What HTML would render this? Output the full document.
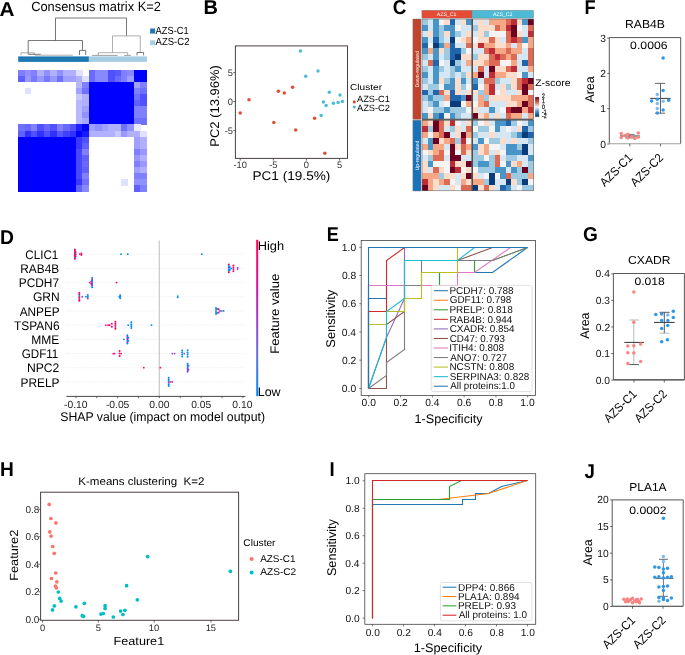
<!DOCTYPE html>
<html><head><meta charset="utf-8"><style>
html,body{margin:0;padding:0;background:#fff;}
svg{display:block;will-change:transform;}
text{font-family:"Liberation Sans",sans-serif;text-rendering:geometricPrecision;}
</style></head><body>
<svg width="685" height="655" viewBox="0 0 685 655">
<rect width="685" height="655" fill="#fff"/>
<text x="-0.52" y="15.80" font-size="20" textLength="14.98" lengthAdjust="spacingAndGlyphs" font-weight="bold" >A</text>
<text x="203.60" y="13.90" font-size="20" textLength="14.44" lengthAdjust="spacingAndGlyphs" font-weight="bold" >B</text>
<text x="392.74" y="14.00" font-size="20" textLength="13.67" lengthAdjust="spacingAndGlyphs" font-weight="bold" >C</text>
<text x="-0.06" y="243.60" font-size="20" textLength="13.97" lengthAdjust="spacingAndGlyphs" font-weight="bold" >D</text>
<text x="326.73" y="241.30" font-size="20" textLength="12.04" lengthAdjust="spacingAndGlyphs" font-weight="bold" >E</text>
<text x="584.61" y="13.70" font-size="20" textLength="11.14" lengthAdjust="spacingAndGlyphs" font-weight="bold" >F</text>
<text x="582.94" y="241.30" font-size="20" textLength="14.86" lengthAdjust="spacingAndGlyphs" font-weight="bold" >G</text>
<text x="0.06" y="476.00" font-size="20" textLength="13.83" lengthAdjust="spacingAndGlyphs" font-weight="bold" >H</text>
<text x="329.59" y="475.80" font-size="20" textLength="5.17" lengthAdjust="spacingAndGlyphs" font-weight="bold" >I</text>
<text x="584.62" y="477.50" font-size="20" textLength="10.42" lengthAdjust="spacingAndGlyphs" font-weight="bold" >J</text>
<text x="31.16" y="11.20" font-size="13.3" textLength="129.83" lengthAdjust="spacingAndGlyphs" >Consensus matrix K=2</text>
<line x1="55.5" y1="18" x2="126.5" y2="18" stroke="#555" stroke-width="0.8" />
<line x1="55.5" y1="18" x2="55.5" y2="40.5" stroke="#555" stroke-width="0.8" />
<line x1="126.5" y1="18" x2="126.5" y2="35.9" stroke="#555" stroke-width="0.8" />
<line x1="28.2" y1="40.5" x2="82.5" y2="40.5" stroke="#555" stroke-width="0.8" />
<line x1="28.2" y1="40.5" x2="28.2" y2="54.2" stroke="#555" stroke-width="0.8" />
<line x1="82.5" y1="40.5" x2="82.5" y2="50.4" stroke="#555" stroke-width="0.8" />
<line x1="79.5" y1="50.4" x2="85.7" y2="50.4" stroke="#555" stroke-width="0.8" />
<line x1="79.5" y1="50.4" x2="79.5" y2="55" stroke="#555" stroke-width="0.8" />
<line x1="85.7" y1="50.4" x2="85.7" y2="55" stroke="#555" stroke-width="0.8" />
<line x1="21" y1="52.8" x2="34.3" y2="52.8" stroke="#999" stroke-width="0.8" />
<line x1="21" y1="52.8" x2="21" y2="55.3" stroke="#999" stroke-width="0.8" />
<line x1="34.3" y1="52.8" x2="34.3" y2="55" stroke="#999" stroke-width="0.8" />
<line x1="28.2" y1="54.3" x2="40.7" y2="54.3" stroke="#555" stroke-width="0.8" />
<line x1="34.9" y1="55.2" x2="72.8" y2="55.2" stroke="#a09590" stroke-width="0.8" />
<line x1="112.5" y1="35.9" x2="140.3" y2="35.9" stroke="#999" stroke-width="0.8" />
<line x1="112.5" y1="35.9" x2="112.5" y2="52.7" stroke="#999" stroke-width="0.8" />
<line x1="140.3" y1="35.9" x2="140.3" y2="52.5" stroke="#999" stroke-width="0.8" />
<line x1="98.3" y1="52.7" x2="127.7" y2="52.7" stroke="#999" stroke-width="0.8" />
<line x1="98.3" y1="52.7" x2="98.3" y2="55.4" stroke="#999" stroke-width="0.8" />
<line x1="127.7" y1="52.7" x2="127.7" y2="55.4" stroke="#999" stroke-width="0.8" />
<line x1="92.1" y1="55.4" x2="117.7" y2="55.4" stroke="#888" stroke-width="0.8" />
<line x1="124.1" y1="55.4" x2="130.8" y2="55.4" stroke="#888" stroke-width="0.8" />
<line x1="137" y1="52.5" x2="143.6" y2="52.5" stroke="#555" stroke-width="0.8" />
<line x1="137" y1="52.5" x2="137" y2="55.4" stroke="#555" stroke-width="0.8" />
<line x1="143.6" y1="52.5" x2="143.6" y2="55.4" stroke="#555" stroke-width="0.8" />
<rect x="18.2" y="56.4" width="70.7" height="5.5" fill="#1f78b4" />
<rect x="88.9" y="56.4" width="58" height="5.5" fill="#a6cee3" />
<rect x="150.1" y="28.5" width="5" height="5.1" fill="#1f78b4" />
<rect x="150.1" y="40.3" width="5" height="4.9" fill="#a6cee3" />
<text x="155.60" y="33.50" font-size="10.3" textLength="33.13" lengthAdjust="spacingAndGlyphs" >AZS-C1</text>
<text x="155.60" y="44.80" font-size="10.3" textLength="33.89" lengthAdjust="spacingAndGlyphs" >AZS-C2</text>
<rect x="18.1" y="69.6" width="6.78" height="6.44" fill="#8080ff" shape-rendering="crispEdges"/>
<rect x="24.53" y="69.6" width="6.78" height="6.44" fill="#9090ff" shape-rendering="crispEdges"/>
<rect x="30.96" y="69.6" width="6.78" height="6.44" fill="#8080ff" shape-rendering="crispEdges"/>
<rect x="37.39" y="69.6" width="6.78" height="6.44" fill="#b0b0ff" shape-rendering="crispEdges"/>
<rect x="43.82" y="69.6" width="6.78" height="6.44" fill="#9090ff" shape-rendering="crispEdges"/>
<rect x="50.25" y="69.6" width="6.78" height="6.44" fill="#b0b0ff" shape-rendering="crispEdges"/>
<rect x="56.68" y="69.6" width="6.78" height="6.44" fill="#9090ff" shape-rendering="crispEdges"/>
<rect x="63.11" y="69.6" width="6.78" height="6.44" fill="#b0b0ff" shape-rendering="crispEdges"/>
<rect x="69.54" y="69.6" width="6.78" height="6.44" fill="#b0b0ff" shape-rendering="crispEdges"/>
<rect x="75.97" y="69.6" width="6.78" height="6.44" fill="#e0e0ff" shape-rendering="crispEdges"/>
<rect x="88.83" y="69.6" width="6.78" height="6.44" fill="#6a6aff" shape-rendering="crispEdges"/>
<rect x="95.26" y="69.6" width="6.78" height="6.44" fill="#8888ff" shape-rendering="crispEdges"/>
<rect x="101.69" y="69.6" width="6.78" height="6.44" fill="#8888ff" shape-rendering="crispEdges"/>
<rect x="108.12" y="69.6" width="6.78" height="6.44" fill="#5050ff" shape-rendering="crispEdges"/>
<rect x="114.55" y="69.6" width="6.78" height="6.44" fill="#5858ff" shape-rendering="crispEdges"/>
<rect x="120.98" y="69.6" width="6.78" height="6.44" fill="#8080ff" shape-rendering="crispEdges"/>
<rect x="127.41" y="69.6" width="6.78" height="6.44" fill="#8888ff" shape-rendering="crispEdges"/>
<rect x="133.84" y="69.6" width="6.78" height="6.44" fill="#0000ff" shape-rendering="crispEdges"/>
<rect x="140.27" y="69.6" width="6.78" height="6.44" fill="#0000ff" shape-rendering="crispEdges"/>
<rect x="18.1" y="75.69" width="6.78" height="6.44" fill="#6060ff" shape-rendering="crispEdges"/>
<rect x="24.53" y="75.69" width="6.78" height="6.44" fill="#9898ff" shape-rendering="crispEdges"/>
<rect x="30.96" y="75.69" width="6.78" height="6.44" fill="#7878ff" shape-rendering="crispEdges"/>
<rect x="37.39" y="75.69" width="6.78" height="6.44" fill="#9898ff" shape-rendering="crispEdges"/>
<rect x="43.82" y="75.69" width="6.78" height="6.44" fill="#7878ff" shape-rendering="crispEdges"/>
<rect x="50.25" y="75.69" width="6.78" height="6.44" fill="#9898ff" shape-rendering="crispEdges"/>
<rect x="56.68" y="75.69" width="6.78" height="6.44" fill="#7070ff" shape-rendering="crispEdges"/>
<rect x="63.11" y="75.69" width="6.78" height="6.44" fill="#a0a0ff" shape-rendering="crispEdges"/>
<rect x="69.54" y="75.69" width="6.78" height="6.44" fill="#a0a0ff" shape-rendering="crispEdges"/>
<rect x="75.97" y="75.69" width="6.78" height="6.44" fill="#b0b0ff" shape-rendering="crispEdges"/>
<rect x="82.4" y="75.69" width="6.78" height="6.44" fill="#e0e0ff" shape-rendering="crispEdges"/>
<rect x="88.83" y="75.69" width="6.78" height="6.44" fill="#6a6aff" shape-rendering="crispEdges"/>
<rect x="95.26" y="75.69" width="6.78" height="6.44" fill="#8888ff" shape-rendering="crispEdges"/>
<rect x="101.69" y="75.69" width="6.78" height="6.44" fill="#8888ff" shape-rendering="crispEdges"/>
<rect x="108.12" y="75.69" width="6.78" height="6.44" fill="#5050ff" shape-rendering="crispEdges"/>
<rect x="114.55" y="75.69" width="6.78" height="6.44" fill="#6a6aff" shape-rendering="crispEdges"/>
<rect x="120.98" y="75.69" width="6.78" height="6.44" fill="#8080ff" shape-rendering="crispEdges"/>
<rect x="127.41" y="75.69" width="6.78" height="6.44" fill="#a0a0ff" shape-rendering="crispEdges"/>
<rect x="133.84" y="75.69" width="6.78" height="6.44" fill="#0000ff" shape-rendering="crispEdges"/>
<rect x="140.27" y="75.69" width="6.78" height="6.44" fill="#0000ff" shape-rendering="crispEdges"/>
<rect x="75.97" y="81.78" width="6.78" height="6.44" fill="#b8b8ff" shape-rendering="crispEdges"/>
<rect x="82.4" y="81.78" width="6.78" height="6.44" fill="#8080ff" shape-rendering="crispEdges"/>
<rect x="88.83" y="81.78" width="6.78" height="6.44" fill="#0000ff" shape-rendering="crispEdges"/>
<rect x="95.26" y="81.78" width="6.78" height="6.44" fill="#0000ff" shape-rendering="crispEdges"/>
<rect x="101.69" y="81.78" width="6.78" height="6.44" fill="#0000ff" shape-rendering="crispEdges"/>
<rect x="108.12" y="81.78" width="6.78" height="6.44" fill="#0000ff" shape-rendering="crispEdges"/>
<rect x="114.55" y="81.78" width="6.78" height="6.44" fill="#0000ff" shape-rendering="crispEdges"/>
<rect x="120.98" y="81.78" width="6.78" height="6.44" fill="#0000ff" shape-rendering="crispEdges"/>
<rect x="127.41" y="81.78" width="6.78" height="6.44" fill="#0000ff" shape-rendering="crispEdges"/>
<rect x="133.84" y="81.78" width="6.78" height="6.44" fill="#a0a0ff" shape-rendering="crispEdges"/>
<rect x="140.27" y="81.78" width="6.78" height="6.44" fill="#8080ff" shape-rendering="crispEdges"/>
<rect x="24.53" y="87.87" width="6.78" height="6.44" fill="#e0e0ff" shape-rendering="crispEdges"/>
<rect x="75.97" y="87.87" width="6.78" height="6.44" fill="#a0a0ff" shape-rendering="crispEdges"/>
<rect x="82.4" y="87.87" width="6.78" height="6.44" fill="#7070ff" shape-rendering="crispEdges"/>
<rect x="88.83" y="87.87" width="6.78" height="6.44" fill="#0000ff" shape-rendering="crispEdges"/>
<rect x="95.26" y="87.87" width="6.78" height="6.44" fill="#0000ff" shape-rendering="crispEdges"/>
<rect x="101.69" y="87.87" width="6.78" height="6.44" fill="#0000ff" shape-rendering="crispEdges"/>
<rect x="108.12" y="87.87" width="6.78" height="6.44" fill="#0000ff" shape-rendering="crispEdges"/>
<rect x="114.55" y="87.87" width="6.78" height="6.44" fill="#0000ff" shape-rendering="crispEdges"/>
<rect x="120.98" y="87.87" width="6.78" height="6.44" fill="#0000ff" shape-rendering="crispEdges"/>
<rect x="127.41" y="87.87" width="6.78" height="6.44" fill="#0000ff" shape-rendering="crispEdges"/>
<rect x="133.84" y="87.87" width="6.78" height="6.44" fill="#8080ff" shape-rendering="crispEdges"/>
<rect x="140.27" y="87.87" width="6.78" height="6.44" fill="#7070ff" shape-rendering="crispEdges"/>
<rect x="75.97" y="93.96" width="6.78" height="6.44" fill="#c8c8ff" shape-rendering="crispEdges"/>
<rect x="82.4" y="93.96" width="6.78" height="6.44" fill="#b0b0ff" shape-rendering="crispEdges"/>
<rect x="88.83" y="93.96" width="6.78" height="6.44" fill="#0000ff" shape-rendering="crispEdges"/>
<rect x="95.26" y="93.96" width="6.78" height="6.44" fill="#0000ff" shape-rendering="crispEdges"/>
<rect x="101.69" y="93.96" width="6.78" height="6.44" fill="#0000ff" shape-rendering="crispEdges"/>
<rect x="108.12" y="93.96" width="6.78" height="6.44" fill="#0000ff" shape-rendering="crispEdges"/>
<rect x="114.55" y="93.96" width="6.78" height="6.44" fill="#0000ff" shape-rendering="crispEdges"/>
<rect x="120.98" y="93.96" width="6.78" height="6.44" fill="#0000ff" shape-rendering="crispEdges"/>
<rect x="127.41" y="93.96" width="6.78" height="6.44" fill="#0000ff" shape-rendering="crispEdges"/>
<rect x="133.84" y="93.96" width="6.78" height="6.44" fill="#7070ff" shape-rendering="crispEdges"/>
<rect x="140.27" y="93.96" width="6.78" height="6.44" fill="#5050ff" shape-rendering="crispEdges"/>
<rect x="75.97" y="100.05" width="6.78" height="6.44" fill="#b8b8ff" shape-rendering="crispEdges"/>
<rect x="82.4" y="100.05" width="6.78" height="6.44" fill="#b0b0ff" shape-rendering="crispEdges"/>
<rect x="88.83" y="100.05" width="6.78" height="6.44" fill="#0000ff" shape-rendering="crispEdges"/>
<rect x="95.26" y="100.05" width="6.78" height="6.44" fill="#0000ff" shape-rendering="crispEdges"/>
<rect x="101.69" y="100.05" width="6.78" height="6.44" fill="#0000ff" shape-rendering="crispEdges"/>
<rect x="108.12" y="100.05" width="6.78" height="6.44" fill="#0000ff" shape-rendering="crispEdges"/>
<rect x="114.55" y="100.05" width="6.78" height="6.44" fill="#0000ff" shape-rendering="crispEdges"/>
<rect x="120.98" y="100.05" width="6.78" height="6.44" fill="#0000ff" shape-rendering="crispEdges"/>
<rect x="127.41" y="100.05" width="6.78" height="6.44" fill="#0000ff" shape-rendering="crispEdges"/>
<rect x="133.84" y="100.05" width="6.78" height="6.44" fill="#6060ff" shape-rendering="crispEdges"/>
<rect x="140.27" y="100.05" width="6.78" height="6.44" fill="#5050ff" shape-rendering="crispEdges"/>
<rect x="75.97" y="106.14" width="6.78" height="6.44" fill="#b8b8ff" shape-rendering="crispEdges"/>
<rect x="82.4" y="106.14" width="6.78" height="6.44" fill="#a0a0ff" shape-rendering="crispEdges"/>
<rect x="88.83" y="106.14" width="6.78" height="6.44" fill="#0000ff" shape-rendering="crispEdges"/>
<rect x="95.26" y="106.14" width="6.78" height="6.44" fill="#0000ff" shape-rendering="crispEdges"/>
<rect x="101.69" y="106.14" width="6.78" height="6.44" fill="#0000ff" shape-rendering="crispEdges"/>
<rect x="108.12" y="106.14" width="6.78" height="6.44" fill="#0000ff" shape-rendering="crispEdges"/>
<rect x="114.55" y="106.14" width="6.78" height="6.44" fill="#0000ff" shape-rendering="crispEdges"/>
<rect x="120.98" y="106.14" width="6.78" height="6.44" fill="#0000ff" shape-rendering="crispEdges"/>
<rect x="127.41" y="106.14" width="6.78" height="6.44" fill="#0000ff" shape-rendering="crispEdges"/>
<rect x="133.84" y="106.14" width="6.78" height="6.44" fill="#8080ff" shape-rendering="crispEdges"/>
<rect x="140.27" y="106.14" width="6.78" height="6.44" fill="#8080ff" shape-rendering="crispEdges"/>
<rect x="75.97" y="112.23" width="6.78" height="6.44" fill="#b8b8ff" shape-rendering="crispEdges"/>
<rect x="82.4" y="112.23" width="6.78" height="6.44" fill="#9090ff" shape-rendering="crispEdges"/>
<rect x="88.83" y="112.23" width="6.78" height="6.44" fill="#0000ff" shape-rendering="crispEdges"/>
<rect x="95.26" y="112.23" width="6.78" height="6.44" fill="#0000ff" shape-rendering="crispEdges"/>
<rect x="101.69" y="112.23" width="6.78" height="6.44" fill="#0000ff" shape-rendering="crispEdges"/>
<rect x="108.12" y="112.23" width="6.78" height="6.44" fill="#0000ff" shape-rendering="crispEdges"/>
<rect x="114.55" y="112.23" width="6.78" height="6.44" fill="#0000ff" shape-rendering="crispEdges"/>
<rect x="120.98" y="112.23" width="6.78" height="6.44" fill="#0000ff" shape-rendering="crispEdges"/>
<rect x="127.41" y="112.23" width="6.78" height="6.44" fill="#0000ff" shape-rendering="crispEdges"/>
<rect x="133.84" y="112.23" width="6.78" height="6.44" fill="#8080ff" shape-rendering="crispEdges"/>
<rect x="140.27" y="112.23" width="6.78" height="6.44" fill="#8080ff" shape-rendering="crispEdges"/>
<rect x="75.97" y="118.32" width="6.78" height="6.44" fill="#b8b8ff" shape-rendering="crispEdges"/>
<rect x="82.4" y="118.32" width="6.78" height="6.44" fill="#a8a8ff" shape-rendering="crispEdges"/>
<rect x="88.83" y="118.32" width="6.78" height="6.44" fill="#0000ff" shape-rendering="crispEdges"/>
<rect x="95.26" y="118.32" width="6.78" height="6.44" fill="#0000ff" shape-rendering="crispEdges"/>
<rect x="101.69" y="118.32" width="6.78" height="6.44" fill="#0000ff" shape-rendering="crispEdges"/>
<rect x="108.12" y="118.32" width="6.78" height="6.44" fill="#0000ff" shape-rendering="crispEdges"/>
<rect x="114.55" y="118.32" width="6.78" height="6.44" fill="#0000ff" shape-rendering="crispEdges"/>
<rect x="120.98" y="118.32" width="6.78" height="6.44" fill="#0000ff" shape-rendering="crispEdges"/>
<rect x="127.41" y="118.32" width="6.78" height="6.44" fill="#0000ff" shape-rendering="crispEdges"/>
<rect x="133.84" y="118.32" width="6.78" height="6.44" fill="#7070ff" shape-rendering="crispEdges"/>
<rect x="140.27" y="118.32" width="6.78" height="6.44" fill="#7070ff" shape-rendering="crispEdges"/>
<rect x="18.1" y="124.41" width="6.78" height="6.44" fill="#7070ff" shape-rendering="crispEdges"/>
<rect x="24.53" y="124.41" width="6.78" height="6.44" fill="#6868ff" shape-rendering="crispEdges"/>
<rect x="30.96" y="124.41" width="6.78" height="6.44" fill="#8080ff" shape-rendering="crispEdges"/>
<rect x="37.39" y="124.41" width="6.78" height="6.44" fill="#5050ff" shape-rendering="crispEdges"/>
<rect x="43.82" y="124.41" width="6.78" height="6.44" fill="#6868ff" shape-rendering="crispEdges"/>
<rect x="50.25" y="124.41" width="6.78" height="6.44" fill="#5050ff" shape-rendering="crispEdges"/>
<rect x="56.68" y="124.41" width="6.78" height="6.44" fill="#8080ff" shape-rendering="crispEdges"/>
<rect x="63.11" y="124.41" width="6.78" height="6.44" fill="#6868ff" shape-rendering="crispEdges"/>
<rect x="69.54" y="124.41" width="6.78" height="6.44" fill="#5050ff" shape-rendering="crispEdges"/>
<rect x="75.97" y="124.41" width="6.78" height="6.44" fill="#2020ff" shape-rendering="crispEdges"/>
<rect x="82.4" y="124.41" width="6.78" height="6.44" fill="#0000ff" shape-rendering="crispEdges"/>
<rect x="88.83" y="124.41" width="6.78" height="6.44" fill="#a0a0ff" shape-rendering="crispEdges"/>
<rect x="95.26" y="124.41" width="6.78" height="6.44" fill="#9090ff" shape-rendering="crispEdges"/>
<rect x="101.69" y="124.41" width="6.78" height="6.44" fill="#a0a0ff" shape-rendering="crispEdges"/>
<rect x="108.12" y="124.41" width="6.78" height="6.44" fill="#b0b0ff" shape-rendering="crispEdges"/>
<rect x="114.55" y="124.41" width="6.78" height="6.44" fill="#b0b0ff" shape-rendering="crispEdges"/>
<rect x="120.98" y="124.41" width="6.78" height="6.44" fill="#7070ff" shape-rendering="crispEdges"/>
<rect x="127.41" y="124.41" width="6.78" height="6.44" fill="#9090ff" shape-rendering="crispEdges"/>
<rect x="133.84" y="124.41" width="6.78" height="6.44" fill="#e8e8ff" shape-rendering="crispEdges"/>
<rect x="18.1" y="130.5" width="6.78" height="6.44" fill="#6060ff" shape-rendering="crispEdges"/>
<rect x="24.53" y="130.5" width="6.78" height="6.44" fill="#3030ff" shape-rendering="crispEdges"/>
<rect x="30.96" y="130.5" width="6.78" height="6.44" fill="#5050ff" shape-rendering="crispEdges"/>
<rect x="37.39" y="130.5" width="6.78" height="6.44" fill="#3030ff" shape-rendering="crispEdges"/>
<rect x="43.82" y="130.5" width="6.78" height="6.44" fill="#5050ff" shape-rendering="crispEdges"/>
<rect x="50.25" y="130.5" width="6.78" height="6.44" fill="#3030ff" shape-rendering="crispEdges"/>
<rect x="56.68" y="130.5" width="6.78" height="6.44" fill="#5858ff" shape-rendering="crispEdges"/>
<rect x="63.11" y="130.5" width="6.78" height="6.44" fill="#4040ff" shape-rendering="crispEdges"/>
<rect x="69.54" y="130.5" width="6.78" height="6.44" fill="#3030ff" shape-rendering="crispEdges"/>
<rect x="75.97" y="130.5" width="6.78" height="6.44" fill="#0000ff" shape-rendering="crispEdges"/>
<rect x="82.4" y="130.5" width="6.78" height="6.44" fill="#1818ff" shape-rendering="crispEdges"/>
<rect x="88.83" y="130.5" width="6.78" height="6.44" fill="#b0b0ff" shape-rendering="crispEdges"/>
<rect x="95.26" y="130.5" width="6.78" height="6.44" fill="#b0b0ff" shape-rendering="crispEdges"/>
<rect x="101.69" y="130.5" width="6.78" height="6.44" fill="#b0b0ff" shape-rendering="crispEdges"/>
<rect x="108.12" y="130.5" width="6.78" height="6.44" fill="#b0b0ff" shape-rendering="crispEdges"/>
<rect x="114.55" y="130.5" width="6.78" height="6.44" fill="#c8c8ff" shape-rendering="crispEdges"/>
<rect x="120.98" y="130.5" width="6.78" height="6.44" fill="#9898ff" shape-rendering="crispEdges"/>
<rect x="127.41" y="130.5" width="6.78" height="6.44" fill="#b0b0ff" shape-rendering="crispEdges"/>
<rect x="133.84" y="130.5" width="6.78" height="6.44" fill="#b0b0ff" shape-rendering="crispEdges"/>
<rect x="140.27" y="130.5" width="6.78" height="6.44" fill="#e0e0ff" shape-rendering="crispEdges"/>
<rect x="18.1" y="136.59" width="6.78" height="6.44" fill="#0000ff" shape-rendering="crispEdges"/>
<rect x="24.53" y="136.59" width="6.78" height="6.44" fill="#0000ff" shape-rendering="crispEdges"/>
<rect x="30.96" y="136.59" width="6.78" height="6.44" fill="#0000ff" shape-rendering="crispEdges"/>
<rect x="37.39" y="136.59" width="6.78" height="6.44" fill="#0000ff" shape-rendering="crispEdges"/>
<rect x="43.82" y="136.59" width="6.78" height="6.44" fill="#0000ff" shape-rendering="crispEdges"/>
<rect x="50.25" y="136.59" width="6.78" height="6.44" fill="#0000ff" shape-rendering="crispEdges"/>
<rect x="56.68" y="136.59" width="6.78" height="6.44" fill="#0000ff" shape-rendering="crispEdges"/>
<rect x="63.11" y="136.59" width="6.78" height="6.44" fill="#0000ff" shape-rendering="crispEdges"/>
<rect x="69.54" y="136.59" width="6.78" height="6.44" fill="#0000ff" shape-rendering="crispEdges"/>
<rect x="75.97" y="136.59" width="6.78" height="6.44" fill="#3838ff" shape-rendering="crispEdges"/>
<rect x="82.4" y="136.59" width="6.78" height="6.44" fill="#5050ff" shape-rendering="crispEdges"/>
<rect x="133.84" y="136.59" width="6.78" height="6.44" fill="#a0a0ff" shape-rendering="crispEdges"/>
<rect x="140.27" y="136.59" width="6.78" height="6.44" fill="#b0b0ff" shape-rendering="crispEdges"/>
<rect x="18.1" y="142.68" width="6.78" height="6.44" fill="#0000ff" shape-rendering="crispEdges"/>
<rect x="24.53" y="142.68" width="6.78" height="6.44" fill="#0000ff" shape-rendering="crispEdges"/>
<rect x="30.96" y="142.68" width="6.78" height="6.44" fill="#0000ff" shape-rendering="crispEdges"/>
<rect x="37.39" y="142.68" width="6.78" height="6.44" fill="#0000ff" shape-rendering="crispEdges"/>
<rect x="43.82" y="142.68" width="6.78" height="6.44" fill="#0000ff" shape-rendering="crispEdges"/>
<rect x="50.25" y="142.68" width="6.78" height="6.44" fill="#0000ff" shape-rendering="crispEdges"/>
<rect x="56.68" y="142.68" width="6.78" height="6.44" fill="#0000ff" shape-rendering="crispEdges"/>
<rect x="63.11" y="142.68" width="6.78" height="6.44" fill="#0000ff" shape-rendering="crispEdges"/>
<rect x="69.54" y="142.68" width="6.78" height="6.44" fill="#0000ff" shape-rendering="crispEdges"/>
<rect x="75.97" y="142.68" width="6.78" height="6.44" fill="#3838ff" shape-rendering="crispEdges"/>
<rect x="82.4" y="142.68" width="6.78" height="6.44" fill="#6060ff" shape-rendering="crispEdges"/>
<rect x="133.84" y="142.68" width="6.78" height="6.44" fill="#a0a0ff" shape-rendering="crispEdges"/>
<rect x="140.27" y="142.68" width="6.78" height="6.44" fill="#b0b0ff" shape-rendering="crispEdges"/>
<rect x="18.1" y="148.77" width="6.78" height="6.44" fill="#0000ff" shape-rendering="crispEdges"/>
<rect x="24.53" y="148.77" width="6.78" height="6.44" fill="#0000ff" shape-rendering="crispEdges"/>
<rect x="30.96" y="148.77" width="6.78" height="6.44" fill="#0000ff" shape-rendering="crispEdges"/>
<rect x="37.39" y="148.77" width="6.78" height="6.44" fill="#0000ff" shape-rendering="crispEdges"/>
<rect x="43.82" y="148.77" width="6.78" height="6.44" fill="#0000ff" shape-rendering="crispEdges"/>
<rect x="50.25" y="148.77" width="6.78" height="6.44" fill="#0000ff" shape-rendering="crispEdges"/>
<rect x="56.68" y="148.77" width="6.78" height="6.44" fill="#0000ff" shape-rendering="crispEdges"/>
<rect x="63.11" y="148.77" width="6.78" height="6.44" fill="#0000ff" shape-rendering="crispEdges"/>
<rect x="69.54" y="148.77" width="6.78" height="6.44" fill="#0000ff" shape-rendering="crispEdges"/>
<rect x="75.97" y="148.77" width="6.78" height="6.44" fill="#4848ff" shape-rendering="crispEdges"/>
<rect x="82.4" y="148.77" width="6.78" height="6.44" fill="#8080ff" shape-rendering="crispEdges"/>
<rect x="133.84" y="148.77" width="6.78" height="6.44" fill="#8080ff" shape-rendering="crispEdges"/>
<rect x="140.27" y="148.77" width="6.78" height="6.44" fill="#9898ff" shape-rendering="crispEdges"/>
<rect x="18.1" y="154.86" width="6.78" height="6.44" fill="#0000ff" shape-rendering="crispEdges"/>
<rect x="24.53" y="154.86" width="6.78" height="6.44" fill="#0000ff" shape-rendering="crispEdges"/>
<rect x="30.96" y="154.86" width="6.78" height="6.44" fill="#0000ff" shape-rendering="crispEdges"/>
<rect x="37.39" y="154.86" width="6.78" height="6.44" fill="#0000ff" shape-rendering="crispEdges"/>
<rect x="43.82" y="154.86" width="6.78" height="6.44" fill="#0000ff" shape-rendering="crispEdges"/>
<rect x="50.25" y="154.86" width="6.78" height="6.44" fill="#0000ff" shape-rendering="crispEdges"/>
<rect x="56.68" y="154.86" width="6.78" height="6.44" fill="#0000ff" shape-rendering="crispEdges"/>
<rect x="63.11" y="154.86" width="6.78" height="6.44" fill="#0000ff" shape-rendering="crispEdges"/>
<rect x="69.54" y="154.86" width="6.78" height="6.44" fill="#0000ff" shape-rendering="crispEdges"/>
<rect x="75.97" y="154.86" width="6.78" height="6.44" fill="#4848ff" shape-rendering="crispEdges"/>
<rect x="82.4" y="154.86" width="6.78" height="6.44" fill="#6060ff" shape-rendering="crispEdges"/>
<rect x="133.84" y="154.86" width="6.78" height="6.44" fill="#9898ff" shape-rendering="crispEdges"/>
<rect x="140.27" y="154.86" width="6.78" height="6.44" fill="#b0b0ff" shape-rendering="crispEdges"/>
<rect x="18.1" y="160.95" width="6.78" height="6.44" fill="#0000ff" shape-rendering="crispEdges"/>
<rect x="24.53" y="160.95" width="6.78" height="6.44" fill="#0000ff" shape-rendering="crispEdges"/>
<rect x="30.96" y="160.95" width="6.78" height="6.44" fill="#0000ff" shape-rendering="crispEdges"/>
<rect x="37.39" y="160.95" width="6.78" height="6.44" fill="#0000ff" shape-rendering="crispEdges"/>
<rect x="43.82" y="160.95" width="6.78" height="6.44" fill="#0000ff" shape-rendering="crispEdges"/>
<rect x="50.25" y="160.95" width="6.78" height="6.44" fill="#0000ff" shape-rendering="crispEdges"/>
<rect x="56.68" y="160.95" width="6.78" height="6.44" fill="#0000ff" shape-rendering="crispEdges"/>
<rect x="63.11" y="160.95" width="6.78" height="6.44" fill="#0000ff" shape-rendering="crispEdges"/>
<rect x="69.54" y="160.95" width="6.78" height="6.44" fill="#0000ff" shape-rendering="crispEdges"/>
<rect x="75.97" y="160.95" width="6.78" height="6.44" fill="#4848ff" shape-rendering="crispEdges"/>
<rect x="82.4" y="160.95" width="6.78" height="6.44" fill="#6868ff" shape-rendering="crispEdges"/>
<rect x="133.84" y="160.95" width="6.78" height="6.44" fill="#8080ff" shape-rendering="crispEdges"/>
<rect x="140.27" y="160.95" width="6.78" height="6.44" fill="#9898ff" shape-rendering="crispEdges"/>
<rect x="18.1" y="167.04" width="6.78" height="6.44" fill="#0000ff" shape-rendering="crispEdges"/>
<rect x="24.53" y="167.04" width="6.78" height="6.44" fill="#0000ff" shape-rendering="crispEdges"/>
<rect x="30.96" y="167.04" width="6.78" height="6.44" fill="#0000ff" shape-rendering="crispEdges"/>
<rect x="37.39" y="167.04" width="6.78" height="6.44" fill="#0000ff" shape-rendering="crispEdges"/>
<rect x="43.82" y="167.04" width="6.78" height="6.44" fill="#0000ff" shape-rendering="crispEdges"/>
<rect x="50.25" y="167.04" width="6.78" height="6.44" fill="#0000ff" shape-rendering="crispEdges"/>
<rect x="56.68" y="167.04" width="6.78" height="6.44" fill="#0000ff" shape-rendering="crispEdges"/>
<rect x="63.11" y="167.04" width="6.78" height="6.44" fill="#0000ff" shape-rendering="crispEdges"/>
<rect x="69.54" y="167.04" width="6.78" height="6.44" fill="#0000ff" shape-rendering="crispEdges"/>
<rect x="75.97" y="167.04" width="6.78" height="6.44" fill="#4848ff" shape-rendering="crispEdges"/>
<rect x="82.4" y="167.04" width="6.78" height="6.44" fill="#6060ff" shape-rendering="crispEdges"/>
<rect x="133.84" y="167.04" width="6.78" height="6.44" fill="#a0a0ff" shape-rendering="crispEdges"/>
<rect x="140.27" y="167.04" width="6.78" height="6.44" fill="#b0b0ff" shape-rendering="crispEdges"/>
<rect x="18.1" y="173.13" width="6.78" height="6.44" fill="#0000ff" shape-rendering="crispEdges"/>
<rect x="24.53" y="173.13" width="6.78" height="6.44" fill="#0000ff" shape-rendering="crispEdges"/>
<rect x="30.96" y="173.13" width="6.78" height="6.44" fill="#0000ff" shape-rendering="crispEdges"/>
<rect x="37.39" y="173.13" width="6.78" height="6.44" fill="#0000ff" shape-rendering="crispEdges"/>
<rect x="43.82" y="173.13" width="6.78" height="6.44" fill="#0000ff" shape-rendering="crispEdges"/>
<rect x="50.25" y="173.13" width="6.78" height="6.44" fill="#0000ff" shape-rendering="crispEdges"/>
<rect x="56.68" y="173.13" width="6.78" height="6.44" fill="#0000ff" shape-rendering="crispEdges"/>
<rect x="63.11" y="173.13" width="6.78" height="6.44" fill="#0000ff" shape-rendering="crispEdges"/>
<rect x="69.54" y="173.13" width="6.78" height="6.44" fill="#0000ff" shape-rendering="crispEdges"/>
<rect x="75.97" y="173.13" width="6.78" height="6.44" fill="#4848ff" shape-rendering="crispEdges"/>
<rect x="82.4" y="173.13" width="6.78" height="6.44" fill="#8080ff" shape-rendering="crispEdges"/>
<rect x="133.84" y="173.13" width="6.78" height="6.44" fill="#8080ff" shape-rendering="crispEdges"/>
<rect x="140.27" y="173.13" width="6.78" height="6.44" fill="#8080ff" shape-rendering="crispEdges"/>
<rect x="18.1" y="179.22" width="6.78" height="6.44" fill="#0000ff" shape-rendering="crispEdges"/>
<rect x="24.53" y="179.22" width="6.78" height="6.44" fill="#0000ff" shape-rendering="crispEdges"/>
<rect x="30.96" y="179.22" width="6.78" height="6.44" fill="#0000ff" shape-rendering="crispEdges"/>
<rect x="37.39" y="179.22" width="6.78" height="6.44" fill="#0000ff" shape-rendering="crispEdges"/>
<rect x="43.82" y="179.22" width="6.78" height="6.44" fill="#0000ff" shape-rendering="crispEdges"/>
<rect x="50.25" y="179.22" width="6.78" height="6.44" fill="#0000ff" shape-rendering="crispEdges"/>
<rect x="56.68" y="179.22" width="6.78" height="6.44" fill="#0000ff" shape-rendering="crispEdges"/>
<rect x="63.11" y="179.22" width="6.78" height="6.44" fill="#0000ff" shape-rendering="crispEdges"/>
<rect x="69.54" y="179.22" width="6.78" height="6.44" fill="#0000ff" shape-rendering="crispEdges"/>
<rect x="75.97" y="179.22" width="6.78" height="6.44" fill="#3838ff" shape-rendering="crispEdges"/>
<rect x="82.4" y="179.22" width="6.78" height="6.44" fill="#7070ff" shape-rendering="crispEdges"/>
<rect x="120.98" y="179.22" width="6.78" height="6.44" fill="#e0e0ff" shape-rendering="crispEdges"/>
<rect x="133.84" y="179.22" width="6.78" height="6.44" fill="#9090ff" shape-rendering="crispEdges"/>
<rect x="140.27" y="179.22" width="6.78" height="6.44" fill="#9090ff" shape-rendering="crispEdges"/>
<rect x="18.1" y="185.31" width="6.78" height="6.44" fill="#0000ff" shape-rendering="crispEdges"/>
<rect x="24.53" y="185.31" width="6.78" height="6.44" fill="#0000ff" shape-rendering="crispEdges"/>
<rect x="30.96" y="185.31" width="6.78" height="6.44" fill="#0000ff" shape-rendering="crispEdges"/>
<rect x="37.39" y="185.31" width="6.78" height="6.44" fill="#0000ff" shape-rendering="crispEdges"/>
<rect x="43.82" y="185.31" width="6.78" height="6.44" fill="#0000ff" shape-rendering="crispEdges"/>
<rect x="50.25" y="185.31" width="6.78" height="6.44" fill="#0000ff" shape-rendering="crispEdges"/>
<rect x="56.68" y="185.31" width="6.78" height="6.44" fill="#0000ff" shape-rendering="crispEdges"/>
<rect x="63.11" y="185.31" width="6.78" height="6.44" fill="#0000ff" shape-rendering="crispEdges"/>
<rect x="69.54" y="185.31" width="6.78" height="6.44" fill="#0000ff" shape-rendering="crispEdges"/>
<rect x="75.97" y="185.31" width="6.78" height="6.44" fill="#6060ff" shape-rendering="crispEdges"/>
<rect x="82.4" y="185.31" width="6.78" height="6.44" fill="#8888ff" shape-rendering="crispEdges"/>
<rect x="133.84" y="185.31" width="6.78" height="6.44" fill="#6060ff" shape-rendering="crispEdges"/>
<rect x="140.27" y="185.31" width="6.78" height="6.44" fill="#8080ff" shape-rendering="crispEdges"/>
<rect x="235.4" y="45.9" width="112.10" height="112.50" fill="none" stroke="#4a4040" stroke-width="1"/>
<line x1="240.2" y1="158.4" x2="240.2" y2="160.6" stroke="#444" stroke-width="0.8" />
<line x1="273.3" y1="158.4" x2="273.3" y2="160.6" stroke="#444" stroke-width="0.8" />
<line x1="306.4" y1="158.4" x2="306.4" y2="160.6" stroke="#444" stroke-width="0.8" />
<line x1="339.5" y1="158.4" x2="339.5" y2="160.6" stroke="#444" stroke-width="0.8" />
<line x1="233.2" y1="72.6" x2="235.4" y2="72.6" stroke="#444" stroke-width="0.8" />
<line x1="233.2" y1="101.6" x2="235.4" y2="101.6" stroke="#444" stroke-width="0.8" />
<line x1="233.2" y1="130.6" x2="235.4" y2="130.6" stroke="#444" stroke-width="0.8" />
<text x="233.43" y="167.60" font-size="9.3" textLength="13.44" lengthAdjust="spacingAndGlyphs" fill="#333333" >-10</text>
<text x="269.14" y="167.60" font-size="9.3" textLength="8.27" lengthAdjust="spacingAndGlyphs" fill="#333333" >-5</text>
<text x="303.80" y="167.60" font-size="9.3" textLength="5.17" lengthAdjust="spacingAndGlyphs" fill="#333333" >0</text>
<text x="336.92" y="167.60" font-size="9.3" textLength="5.17" lengthAdjust="spacingAndGlyphs" fill="#333333" >5</text>
<text x="227.81" y="75.90" font-size="9.3" textLength="5.17" lengthAdjust="spacingAndGlyphs" fill="#333333" >5</text>
<text x="227.76" y="104.90" font-size="9.3" textLength="5.17" lengthAdjust="spacingAndGlyphs" fill="#333333" >0</text>
<text x="224.69" y="133.90" font-size="9.3" textLength="8.27" lengthAdjust="spacingAndGlyphs" fill="#333333" >-5</text>
<text x="252.41" y="180.00" font-size="12.6" textLength="77.97" lengthAdjust="spacingAndGlyphs" >PC1 (19.5%)</text>
<text transform="translate(218.60,146.64) rotate(-90)" x="0" y="0" font-size="12.6" textLength="81.43" lengthAdjust="spacingAndGlyphs" >PC2 (13.96%)</text>
<text x="349.99" y="90.20" font-size="8.6" textLength="32.08" lengthAdjust="spacingAndGlyphs" >Cluster</text>
<text x="357.00" y="101.50" font-size="9.0" textLength="32.93" lengthAdjust="spacingAndGlyphs" >AZS-C1</text>
<text x="357.00" y="111.00" font-size="9.0" textLength="32.98" lengthAdjust="spacingAndGlyphs" >AZS-C2</text>
<circle cx="354.3" cy="101.9" r="1.55" fill="#e64b35" />
<circle cx="354.3" cy="107" r="1.55" fill="#4dbbd5" />
<circle cx="240.2" cy="113" r="1.75" fill="#e64b35" />
<circle cx="249" cy="99.8" r="1.75" fill="#e64b35" />
<circle cx="273.8" cy="122.4" r="1.75" fill="#e64b35" />
<circle cx="278.4" cy="91.3" r="1.75" fill="#e64b35" />
<circle cx="284.3" cy="92.9" r="1.75" fill="#e64b35" />
<circle cx="292.6" cy="87.2" r="1.75" fill="#e64b35" />
<circle cx="295.7" cy="130.1" r="1.75" fill="#e64b35" />
<circle cx="314.6" cy="118.2" r="1.75" fill="#e64b35" />
<circle cx="324.8" cy="153.2" r="1.75" fill="#e64b35" />
<circle cx="300.4" cy="51" r="1.75" fill="#4dbbd5" />
<circle cx="305.7" cy="76.2" r="1.75" fill="#4dbbd5" />
<circle cx="318" cy="71" r="1.75" fill="#4dbbd5" />
<circle cx="329.3" cy="92.3" r="1.75" fill="#4dbbd5" />
<circle cx="323.4" cy="101.9" r="1.75" fill="#4dbbd5" />
<circle cx="326.1" cy="105.4" r="1.75" fill="#4dbbd5" />
<circle cx="321.2" cy="115.6" r="1.75" fill="#4dbbd5" />
<circle cx="333.4" cy="103.2" r="1.75" fill="#4dbbd5" />
<circle cx="338.1" cy="102.5" r="1.75" fill="#4dbbd5" />
<circle cx="340" cy="95" r="1.75" fill="#4dbbd5" />
<circle cx="342.4" cy="101.4" r="1.75" fill="#4dbbd5" />
<g shape-rendering="crispEdges"><rect x="422" y="19" width="5.83" height="6.18" fill="#9ecae1" /><rect x="427.53" y="19" width="5.83" height="6.18" fill="#d6e6f2" /><rect x="433.06" y="19" width="5.83" height="6.18" fill="#4a95c8" /><rect x="438.59" y="19" width="5.83" height="6.18" fill="#f4f4f5" /><rect x="444.12" y="19" width="5.83" height="6.18" fill="#fcdccb" /><rect x="449.65" y="19" width="5.83" height="6.18" fill="#2166ac" /><rect x="455.18" y="19" width="5.83" height="6.18" fill="#d6e6f2" /><rect x="460.71" y="19" width="5.83" height="6.18" fill="#fcdccb" /><rect x="466.24" y="19" width="5.83" height="6.18" fill="#4a95c8" /><rect x="472.6" y="19" width="5.83" height="6.18" fill="#d6e6f2" /><rect x="478.13" y="19" width="5.83" height="6.18" fill="#fcdccb" /><rect x="483.66" y="19" width="5.83" height="6.18" fill="#d6e6f2" /><rect x="489.19" y="19" width="5.83" height="6.18" fill="#f6a886" /><rect x="494.72" y="19" width="5.83" height="6.18" fill="#f6a886" /><rect x="500.25" y="19" width="5.83" height="6.18" fill="#f6a886" /><rect x="505.78" y="19" width="5.83" height="6.18" fill="#dc6a55" /><rect x="511.31" y="19" width="5.83" height="6.18" fill="#be2d36" /><rect x="516.84" y="19" width="5.83" height="6.18" fill="#fcdccb" /><rect x="522.37" y="19" width="5.83" height="6.18" fill="#4a95c8" /><rect x="527.9" y="19" width="5.83" height="6.18" fill="#6c0020" /><rect x="422" y="24.88" width="5.83" height="6.18" fill="#4a95c8" /><rect x="427.53" y="24.88" width="5.83" height="6.18" fill="#d6e6f2" /><rect x="433.06" y="24.88" width="5.83" height="6.18" fill="#4a95c8" /><rect x="438.59" y="24.88" width="5.83" height="6.18" fill="#9ecae1" /><rect x="444.12" y="24.88" width="5.83" height="6.18" fill="#4a95c8" /><rect x="449.65" y="24.88" width="5.83" height="6.18" fill="#4a95c8" /><rect x="455.18" y="24.88" width="5.83" height="6.18" fill="#f4f4f5" /><rect x="460.71" y="24.88" width="5.83" height="6.18" fill="#d6e6f2" /><rect x="466.24" y="24.88" width="5.83" height="6.18" fill="#d6e6f2" /><rect x="472.6" y="24.88" width="5.83" height="6.18" fill="#9ecae1" /><rect x="478.13" y="24.88" width="5.83" height="6.18" fill="#fcdccb" /><rect x="483.66" y="24.88" width="5.83" height="6.18" fill="#fcdccb" /><rect x="489.19" y="24.88" width="5.83" height="6.18" fill="#fcdccb" /><rect x="494.72" y="24.88" width="5.83" height="6.18" fill="#dc6a55" /><rect x="500.25" y="24.88" width="5.83" height="6.18" fill="#f6a886" /><rect x="505.78" y="24.88" width="5.83" height="6.18" fill="#be2d36" /><rect x="511.31" y="24.88" width="5.83" height="6.18" fill="#6c0020" /><rect x="516.84" y="24.88" width="5.83" height="6.18" fill="#f4f4f5" /><rect x="522.37" y="24.88" width="5.83" height="6.18" fill="#d6e6f2" /><rect x="527.9" y="24.88" width="5.83" height="6.18" fill="#dc6a55" /><rect x="422" y="30.76" width="5.83" height="6.18" fill="#d6e6f2" /><rect x="427.53" y="30.76" width="5.83" height="6.18" fill="#fcdccb" /><rect x="433.06" y="30.76" width="5.83" height="6.18" fill="#4a95c8" /><rect x="438.59" y="30.76" width="5.83" height="6.18" fill="#9ecae1" /><rect x="444.12" y="30.76" width="5.83" height="6.18" fill="#fcdccb" /><rect x="449.65" y="30.76" width="5.83" height="6.18" fill="#4a95c8" /><rect x="455.18" y="30.76" width="5.83" height="6.18" fill="#9ecae1" /><rect x="460.71" y="30.76" width="5.83" height="6.18" fill="#d6e6f2" /><rect x="466.24" y="30.76" width="5.83" height="6.18" fill="#fcdccb" /><rect x="472.6" y="30.76" width="5.83" height="6.18" fill="#d6e6f2" /><rect x="478.13" y="30.76" width="5.83" height="6.18" fill="#fcdccb" /><rect x="483.66" y="30.76" width="5.83" height="6.18" fill="#9ecae1" /><rect x="489.19" y="30.76" width="5.83" height="6.18" fill="#f4f4f5" /><rect x="494.72" y="30.76" width="5.83" height="6.18" fill="#f4f4f5" /><rect x="500.25" y="30.76" width="5.83" height="6.18" fill="#f4f4f5" /><rect x="505.78" y="30.76" width="5.83" height="6.18" fill="#dc6a55" /><rect x="511.31" y="30.76" width="5.83" height="6.18" fill="#6c0020" /><rect x="516.84" y="30.76" width="5.83" height="6.18" fill="#fcdccb" /><rect x="522.37" y="30.76" width="5.83" height="6.18" fill="#d6e6f2" /><rect x="527.9" y="30.76" width="5.83" height="6.18" fill="#be2d36" /><rect x="422" y="36.64" width="5.83" height="6.18" fill="#4a95c8" /><rect x="427.53" y="36.64" width="5.83" height="6.18" fill="#d6e6f2" /><rect x="433.06" y="36.64" width="5.83" height="6.18" fill="#2166ac" /><rect x="438.59" y="36.64" width="5.83" height="6.18" fill="#9ecae1" /><rect x="444.12" y="36.64" width="5.83" height="6.18" fill="#d6e6f2" /><rect x="449.65" y="36.64" width="5.83" height="6.18" fill="#0b3b78" /><rect x="455.18" y="36.64" width="5.83" height="6.18" fill="#f4f4f5" /><rect x="460.71" y="36.64" width="5.83" height="6.18" fill="#fcdccb" /><rect x="466.24" y="36.64" width="5.83" height="6.18" fill="#f6a886" /><rect x="472.6" y="36.64" width="5.83" height="6.18" fill="#f4f4f5" /><rect x="478.13" y="36.64" width="5.83" height="6.18" fill="#fcdccb" /><rect x="483.66" y="36.64" width="5.83" height="6.18" fill="#fcdccb" /><rect x="489.19" y="36.64" width="5.83" height="6.18" fill="#dc6a55" /><rect x="494.72" y="36.64" width="5.83" height="6.18" fill="#fcdccb" /><rect x="500.25" y="36.64" width="5.83" height="6.18" fill="#d6e6f2" /><rect x="505.78" y="36.64" width="5.83" height="6.18" fill="#dc6a55" /><rect x="511.31" y="36.64" width="5.83" height="6.18" fill="#be2d36" /><rect x="516.84" y="36.64" width="5.83" height="6.18" fill="#dc6a55" /><rect x="522.37" y="36.64" width="5.83" height="6.18" fill="#4a95c8" /><rect x="527.9" y="36.64" width="5.83" height="6.18" fill="#f6a886" /><rect x="422" y="42.52" width="5.83" height="6.18" fill="#2166ac" /><rect x="427.53" y="42.52" width="5.83" height="6.18" fill="#f4f4f5" /><rect x="433.06" y="42.52" width="5.83" height="6.18" fill="#0b3b78" /><rect x="438.59" y="42.52" width="5.83" height="6.18" fill="#4a95c8" /><rect x="444.12" y="42.52" width="5.83" height="6.18" fill="#f6a886" /><rect x="449.65" y="42.52" width="5.83" height="6.18" fill="#2166ac" /><rect x="455.18" y="42.52" width="5.83" height="6.18" fill="#d6e6f2" /><rect x="460.71" y="42.52" width="5.83" height="6.18" fill="#d6e6f2" /><rect x="466.24" y="42.52" width="5.83" height="6.18" fill="#dc6a55" /><rect x="472.6" y="42.52" width="5.83" height="6.18" fill="#fcdccb" /><rect x="478.13" y="42.52" width="5.83" height="6.18" fill="#be2d36" /><rect x="483.66" y="42.52" width="5.83" height="6.18" fill="#f6a886" /><rect x="489.19" y="42.52" width="5.83" height="6.18" fill="#f6a886" /><rect x="494.72" y="42.52" width="5.83" height="6.18" fill="#fcdccb" /><rect x="500.25" y="42.52" width="5.83" height="6.18" fill="#fcdccb" /><rect x="505.78" y="42.52" width="5.83" height="6.18" fill="#f6a886" /><rect x="511.31" y="42.52" width="5.83" height="6.18" fill="#d6e6f2" /><rect x="516.84" y="42.52" width="5.83" height="6.18" fill="#f6a886" /><rect x="522.37" y="42.52" width="5.83" height="6.18" fill="#f4f4f5" /><rect x="527.9" y="42.52" width="5.83" height="6.18" fill="#f6a886" /><rect x="422" y="48.4" width="5.83" height="6.18" fill="#4a95c8" /><rect x="427.53" y="48.4" width="5.83" height="6.18" fill="#f6a886" /><rect x="433.06" y="48.4" width="5.83" height="6.18" fill="#4a95c8" /><rect x="438.59" y="48.4" width="5.83" height="6.18" fill="#fcdccb" /><rect x="444.12" y="48.4" width="5.83" height="6.18" fill="#9ecae1" /><rect x="449.65" y="48.4" width="5.83" height="6.18" fill="#2166ac" /><rect x="455.18" y="48.4" width="5.83" height="6.18" fill="#2166ac" /><rect x="460.71" y="48.4" width="5.83" height="6.18" fill="#9ecae1" /><rect x="466.24" y="48.4" width="5.83" height="6.18" fill="#f4f4f5" /><rect x="472.6" y="48.4" width="5.83" height="6.18" fill="#d6e6f2" /><rect x="478.13" y="48.4" width="5.83" height="6.18" fill="#d6e6f2" /><rect x="483.66" y="48.4" width="5.83" height="6.18" fill="#dc6a55" /><rect x="489.19" y="48.4" width="5.83" height="6.18" fill="#be2d36" /><rect x="494.72" y="48.4" width="5.83" height="6.18" fill="#f6a886" /><rect x="500.25" y="48.4" width="5.83" height="6.18" fill="#f6a886" /><rect x="505.78" y="48.4" width="5.83" height="6.18" fill="#dc6a55" /><rect x="511.31" y="48.4" width="5.83" height="6.18" fill="#f6a886" /><rect x="516.84" y="48.4" width="5.83" height="6.18" fill="#f6a886" /><rect x="522.37" y="48.4" width="5.83" height="6.18" fill="#d6e6f2" /><rect x="527.9" y="48.4" width="5.83" height="6.18" fill="#dc6a55" /><rect x="422" y="54.28" width="5.83" height="6.18" fill="#9ecae1" /><rect x="427.53" y="54.28" width="5.83" height="6.18" fill="#d6e6f2" /><rect x="433.06" y="54.28" width="5.83" height="6.18" fill="#4a95c8" /><rect x="438.59" y="54.28" width="5.83" height="6.18" fill="#d6e6f2" /><rect x="444.12" y="54.28" width="5.83" height="6.18" fill="#9ecae1" /><rect x="449.65" y="54.28" width="5.83" height="6.18" fill="#2166ac" /><rect x="455.18" y="54.28" width="5.83" height="6.18" fill="#0b3b78" /><rect x="460.71" y="54.28" width="5.83" height="6.18" fill="#fcdccb" /><rect x="466.24" y="54.28" width="5.83" height="6.18" fill="#fcdccb" /><rect x="472.6" y="54.28" width="5.83" height="6.18" fill="#9ecae1" /><rect x="478.13" y="54.28" width="5.83" height="6.18" fill="#fcdccb" /><rect x="483.66" y="54.28" width="5.83" height="6.18" fill="#fcdccb" /><rect x="489.19" y="54.28" width="5.83" height="6.18" fill="#dc6a55" /><rect x="494.72" y="54.28" width="5.83" height="6.18" fill="#be2d36" /><rect x="500.25" y="54.28" width="5.83" height="6.18" fill="#dc6a55" /><rect x="505.78" y="54.28" width="5.83" height="6.18" fill="#f6a886" /><rect x="511.31" y="54.28" width="5.83" height="6.18" fill="#dc6a55" /><rect x="516.84" y="54.28" width="5.83" height="6.18" fill="#d6e6f2" /><rect x="522.37" y="54.28" width="5.83" height="6.18" fill="#d6e6f2" /><rect x="527.9" y="54.28" width="5.83" height="6.18" fill="#dc6a55" /><rect x="422" y="60.16" width="5.83" height="6.18" fill="#d6e6f2" /><rect x="427.53" y="60.16" width="5.83" height="6.18" fill="#dc6a55" /><rect x="433.06" y="60.16" width="5.83" height="6.18" fill="#2166ac" /><rect x="438.59" y="60.16" width="5.83" height="6.18" fill="#f4f4f5" /><rect x="444.12" y="60.16" width="5.83" height="6.18" fill="#d6e6f2" /><rect x="449.65" y="60.16" width="5.83" height="6.18" fill="#0b3b78" /><rect x="455.18" y="60.16" width="5.83" height="6.18" fill="#9ecae1" /><rect x="460.71" y="60.16" width="5.83" height="6.18" fill="#d6e6f2" /><rect x="466.24" y="60.16" width="5.83" height="6.18" fill="#f6a886" /><rect x="472.6" y="60.16" width="5.83" height="6.18" fill="#fcdccb" /><rect x="478.13" y="60.16" width="5.83" height="6.18" fill="#fcdccb" /><rect x="483.66" y="60.16" width="5.83" height="6.18" fill="#f6a886" /><rect x="489.19" y="60.16" width="5.83" height="6.18" fill="#dc6a55" /><rect x="494.72" y="60.16" width="5.83" height="6.18" fill="#dc6a55" /><rect x="500.25" y="60.16" width="5.83" height="6.18" fill="#f4f4f5" /><rect x="505.78" y="60.16" width="5.83" height="6.18" fill="#f4f4f5" /><rect x="511.31" y="60.16" width="5.83" height="6.18" fill="#f6a886" /><rect x="516.84" y="60.16" width="5.83" height="6.18" fill="#d6e6f2" /><rect x="522.37" y="60.16" width="5.83" height="6.18" fill="#2166ac" /><rect x="527.9" y="60.16" width="5.83" height="6.18" fill="#dc6a55" /><rect x="422" y="66.04" width="5.83" height="6.18" fill="#9ecae1" /><rect x="427.53" y="66.04" width="5.83" height="6.18" fill="#d6e6f2" /><rect x="433.06" y="66.04" width="5.83" height="6.18" fill="#4a95c8" /><rect x="438.59" y="66.04" width="5.83" height="6.18" fill="#9ecae1" /><rect x="444.12" y="66.04" width="5.83" height="6.18" fill="#d6e6f2" /><rect x="449.65" y="66.04" width="5.83" height="6.18" fill="#9ecae1" /><rect x="455.18" y="66.04" width="5.83" height="6.18" fill="#4a95c8" /><rect x="460.71" y="66.04" width="5.83" height="6.18" fill="#d6e6f2" /><rect x="466.24" y="66.04" width="5.83" height="6.18" fill="#d6e6f2" /><rect x="472.6" y="66.04" width="5.83" height="6.18" fill="#d6e6f2" /><rect x="478.13" y="66.04" width="5.83" height="6.18" fill="#dc6a55" /><rect x="483.66" y="66.04" width="5.83" height="6.18" fill="#d6e6f2" /><rect x="489.19" y="66.04" width="5.83" height="6.18" fill="#6c0020" /><rect x="494.72" y="66.04" width="5.83" height="6.18" fill="#fcdccb" /><rect x="500.25" y="66.04" width="5.83" height="6.18" fill="#fcdccb" /><rect x="505.78" y="66.04" width="5.83" height="6.18" fill="#dc6a55" /><rect x="511.31" y="66.04" width="5.83" height="6.18" fill="#be2d36" /><rect x="516.84" y="66.04" width="5.83" height="6.18" fill="#d6e6f2" /><rect x="522.37" y="66.04" width="5.83" height="6.18" fill="#d6e6f2" /><rect x="527.9" y="66.04" width="5.83" height="6.18" fill="#f6a886" /><rect x="422" y="71.92" width="5.83" height="6.18" fill="#4a95c8" /><rect x="427.53" y="71.92" width="5.83" height="6.18" fill="#d6e6f2" /><rect x="433.06" y="71.92" width="5.83" height="6.18" fill="#4a95c8" /><rect x="438.59" y="71.92" width="5.83" height="6.18" fill="#d6e6f2" /><rect x="444.12" y="71.92" width="5.83" height="6.18" fill="#d6e6f2" /><rect x="449.65" y="71.92" width="5.83" height="6.18" fill="#9ecae1" /><rect x="455.18" y="71.92" width="5.83" height="6.18" fill="#d6e6f2" /><rect x="460.71" y="71.92" width="5.83" height="6.18" fill="#9ecae1" /><rect x="466.24" y="71.92" width="5.83" height="6.18" fill="#fcdccb" /><rect x="472.6" y="71.92" width="5.83" height="6.18" fill="#f6a886" /><rect x="478.13" y="71.92" width="5.83" height="6.18" fill="#6c0020" /><rect x="483.66" y="71.92" width="5.83" height="6.18" fill="#d6e6f2" /><rect x="489.19" y="71.92" width="5.83" height="6.18" fill="#be2d36" /><rect x="494.72" y="71.92" width="5.83" height="6.18" fill="#f6a886" /><rect x="500.25" y="71.92" width="5.83" height="6.18" fill="#f6a886" /><rect x="505.78" y="71.92" width="5.83" height="6.18" fill="#fcdccb" /><rect x="511.31" y="71.92" width="5.83" height="6.18" fill="#fcdccb" /><rect x="516.84" y="71.92" width="5.83" height="6.18" fill="#f4f4f5" /><rect x="522.37" y="71.92" width="5.83" height="6.18" fill="#4a95c8" /><rect x="527.9" y="71.92" width="5.83" height="6.18" fill="#d6e6f2" /><rect x="422" y="77.8" width="5.83" height="6.18" fill="#9ecae1" /><rect x="427.53" y="77.8" width="5.83" height="6.18" fill="#d6e6f2" /><rect x="433.06" y="77.8" width="5.83" height="6.18" fill="#4a95c8" /><rect x="438.59" y="77.8" width="5.83" height="6.18" fill="#fcdccb" /><rect x="444.12" y="77.8" width="5.83" height="6.18" fill="#9ecae1" /><rect x="449.65" y="77.8" width="5.83" height="6.18" fill="#4a95c8" /><rect x="455.18" y="77.8" width="5.83" height="6.18" fill="#fcdccb" /><rect x="460.71" y="77.8" width="5.83" height="6.18" fill="#4a95c8" /><rect x="466.24" y="77.8" width="5.83" height="6.18" fill="#d6e6f2" /><rect x="472.6" y="77.8" width="5.83" height="6.18" fill="#4a95c8" /><rect x="478.13" y="77.8" width="5.83" height="6.18" fill="#d6e6f2" /><rect x="483.66" y="77.8" width="5.83" height="6.18" fill="#dc6a55" /><rect x="489.19" y="77.8" width="5.83" height="6.18" fill="#dc6a55" /><rect x="494.72" y="77.8" width="5.83" height="6.18" fill="#9ecae1" /><rect x="500.25" y="77.8" width="5.83" height="6.18" fill="#d6e6f2" /><rect x="505.78" y="77.8" width="5.83" height="6.18" fill="#d6e6f2" /><rect x="511.31" y="77.8" width="5.83" height="6.18" fill="#fcdccb" /><rect x="516.84" y="77.8" width="5.83" height="6.18" fill="#dc6a55" /><rect x="522.37" y="77.8" width="5.83" height="6.18" fill="#be2d36" /><rect x="527.9" y="77.8" width="5.83" height="6.18" fill="#6c0020" /><rect x="422" y="83.68" width="5.83" height="6.18" fill="#d6e6f2" /><rect x="427.53" y="83.68" width="5.83" height="6.18" fill="#9ecae1" /><rect x="433.06" y="83.68" width="5.83" height="6.18" fill="#9ecae1" /><rect x="438.59" y="83.68" width="5.83" height="6.18" fill="#f4f4f5" /><rect x="444.12" y="83.68" width="5.83" height="6.18" fill="#4a95c8" /><rect x="449.65" y="83.68" width="5.83" height="6.18" fill="#4a95c8" /><rect x="455.18" y="83.68" width="5.83" height="6.18" fill="#fcdccb" /><rect x="460.71" y="83.68" width="5.83" height="6.18" fill="#9ecae1" /><rect x="466.24" y="83.68" width="5.83" height="6.18" fill="#f4f4f5" /><rect x="472.6" y="83.68" width="5.83" height="6.18" fill="#2166ac" /><rect x="478.13" y="83.68" width="5.83" height="6.18" fill="#f4f4f5" /><rect x="483.66" y="83.68" width="5.83" height="6.18" fill="#f6a886" /><rect x="489.19" y="83.68" width="5.83" height="6.18" fill="#be2d36" /><rect x="494.72" y="83.68" width="5.83" height="6.18" fill="#d6e6f2" /><rect x="500.25" y="83.68" width="5.83" height="6.18" fill="#fcdccb" /><rect x="505.78" y="83.68" width="5.83" height="6.18" fill="#9ecae1" /><rect x="511.31" y="83.68" width="5.83" height="6.18" fill="#fcdccb" /><rect x="516.84" y="83.68" width="5.83" height="6.18" fill="#dc6a55" /><rect x="522.37" y="83.68" width="5.83" height="6.18" fill="#6c0020" /><rect x="527.9" y="83.68" width="5.83" height="6.18" fill="#dc6a55" /><rect x="422" y="89.56" width="5.83" height="6.18" fill="#2166ac" /><rect x="427.53" y="89.56" width="5.83" height="6.18" fill="#9ecae1" /><rect x="433.06" y="89.56" width="5.83" height="6.18" fill="#2166ac" /><rect x="438.59" y="89.56" width="5.83" height="6.18" fill="#dc6a55" /><rect x="444.12" y="89.56" width="5.83" height="6.18" fill="#fcdccb" /><rect x="449.65" y="89.56" width="5.83" height="6.18" fill="#2166ac" /><rect x="455.18" y="89.56" width="5.83" height="6.18" fill="#fcdccb" /><rect x="460.71" y="89.56" width="5.83" height="6.18" fill="#d6e6f2" /><rect x="466.24" y="89.56" width="5.83" height="6.18" fill="#fcdccb" /><rect x="472.6" y="89.56" width="5.83" height="6.18" fill="#fcdccb" /><rect x="478.13" y="89.56" width="5.83" height="6.18" fill="#9ecae1" /><rect x="483.66" y="89.56" width="5.83" height="6.18" fill="#f6a886" /><rect x="489.19" y="89.56" width="5.83" height="6.18" fill="#be2d36" /><rect x="494.72" y="89.56" width="5.83" height="6.18" fill="#f4f4f5" /><rect x="500.25" y="89.56" width="5.83" height="6.18" fill="#fcdccb" /><rect x="505.78" y="89.56" width="5.83" height="6.18" fill="#d6e6f2" /><rect x="511.31" y="89.56" width="5.83" height="6.18" fill="#d6e6f2" /><rect x="516.84" y="89.56" width="5.83" height="6.18" fill="#fcdccb" /><rect x="522.37" y="89.56" width="5.83" height="6.18" fill="#6c0020" /><rect x="527.9" y="89.56" width="5.83" height="6.18" fill="#f4f4f5" /><rect x="422" y="95.44" width="5.83" height="6.18" fill="#9ecae1" /><rect x="427.53" y="95.44" width="5.83" height="6.18" fill="#4a95c8" /><rect x="433.06" y="95.44" width="5.83" height="6.18" fill="#9ecae1" /><rect x="438.59" y="95.44" width="5.83" height="6.18" fill="#9ecae1" /><rect x="444.12" y="95.44" width="5.83" height="6.18" fill="#f6a886" /><rect x="449.65" y="95.44" width="5.83" height="6.18" fill="#2166ac" /><rect x="455.18" y="95.44" width="5.83" height="6.18" fill="#2166ac" /><rect x="460.71" y="95.44" width="5.83" height="6.18" fill="#4a95c8" /><rect x="466.24" y="95.44" width="5.83" height="6.18" fill="#6c0020" /><rect x="472.6" y="95.44" width="5.83" height="6.18" fill="#d6e6f2" /><rect x="478.13" y="95.44" width="5.83" height="6.18" fill="#f6a886" /><rect x="483.66" y="95.44" width="5.83" height="6.18" fill="#9ecae1" /><rect x="489.19" y="95.44" width="5.83" height="6.18" fill="#fcdccb" /><rect x="494.72" y="95.44" width="5.83" height="6.18" fill="#fcdccb" /><rect x="500.25" y="95.44" width="5.83" height="6.18" fill="#fcdccb" /><rect x="505.78" y="95.44" width="5.83" height="6.18" fill="#fcdccb" /><rect x="511.31" y="95.44" width="5.83" height="6.18" fill="#f6a886" /><rect x="516.84" y="95.44" width="5.83" height="6.18" fill="#f6a886" /><rect x="522.37" y="95.44" width="5.83" height="6.18" fill="#f6a886" /><rect x="527.9" y="95.44" width="5.83" height="6.18" fill="#dc6a55" /><rect x="422" y="101.32" width="5.83" height="6.18" fill="#d6e6f2" /><rect x="427.53" y="101.32" width="5.83" height="6.18" fill="#9ecae1" /><rect x="433.06" y="101.32" width="5.83" height="6.18" fill="#4a95c8" /><rect x="438.59" y="101.32" width="5.83" height="6.18" fill="#d6e6f2" /><rect x="444.12" y="101.32" width="5.83" height="6.18" fill="#f4f4f5" /><rect x="449.65" y="101.32" width="5.83" height="6.18" fill="#0b3b78" /><rect x="455.18" y="101.32" width="5.83" height="6.18" fill="#0b3b78" /><rect x="460.71" y="101.32" width="5.83" height="6.18" fill="#f4f4f5" /><rect x="466.24" y="101.32" width="5.83" height="6.18" fill="#f6a886" /><rect x="472.6" y="101.32" width="5.83" height="6.18" fill="#f4f4f5" /><rect x="478.13" y="101.32" width="5.83" height="6.18" fill="#f6a886" /><rect x="483.66" y="101.32" width="5.83" height="6.18" fill="#dc6a55" /><rect x="489.19" y="101.32" width="5.83" height="6.18" fill="#d6e6f2" /><rect x="494.72" y="101.32" width="5.83" height="6.18" fill="#d6e6f2" /><rect x="500.25" y="101.32" width="5.83" height="6.18" fill="#d6e6f2" /><rect x="505.78" y="101.32" width="5.83" height="6.18" fill="#fcdccb" /><rect x="511.31" y="101.32" width="5.83" height="6.18" fill="#fcdccb" /><rect x="516.84" y="101.32" width="5.83" height="6.18" fill="#f6a886" /><rect x="522.37" y="101.32" width="5.83" height="6.18" fill="#6c0020" /><rect x="527.9" y="101.32" width="5.83" height="6.18" fill="#dc6a55" /><rect x="422" y="107.2" width="5.83" height="6.18" fill="#d6e6f2" /><rect x="427.53" y="107.2" width="5.83" height="6.18" fill="#f4f4f5" /><rect x="433.06" y="107.2" width="5.83" height="6.18" fill="#9ecae1" /><rect x="438.59" y="107.2" width="5.83" height="6.18" fill="#9ecae1" /><rect x="444.12" y="107.2" width="5.83" height="6.18" fill="#4a95c8" /><rect x="449.65" y="107.2" width="5.83" height="6.18" fill="#9ecae1" /><rect x="455.18" y="107.2" width="5.83" height="6.18" fill="#9ecae1" /><rect x="460.71" y="107.2" width="5.83" height="6.18" fill="#9ecae1" /><rect x="466.24" y="107.2" width="5.83" height="6.18" fill="#f4f4f5" /><rect x="472.6" y="107.2" width="5.83" height="6.18" fill="#fcdccb" /><rect x="478.13" y="107.2" width="5.83" height="6.18" fill="#d6e6f2" /><rect x="483.66" y="107.2" width="5.83" height="6.18" fill="#d6e6f2" /><rect x="489.19" y="107.2" width="5.83" height="6.18" fill="#4a95c8" /><rect x="494.72" y="107.2" width="5.83" height="6.18" fill="#d6e6f2" /><rect x="500.25" y="107.2" width="5.83" height="6.18" fill="#f4f4f5" /><rect x="505.78" y="107.2" width="5.83" height="6.18" fill="#be2d36" /><rect x="511.31" y="107.2" width="5.83" height="6.18" fill="#6c0020" /><rect x="516.84" y="107.2" width="5.83" height="6.18" fill="#6c0020" /><rect x="522.37" y="107.2" width="5.83" height="6.18" fill="#f6a886" /><rect x="527.9" y="107.2" width="5.83" height="6.18" fill="#be2d36" /><rect x="422" y="113.08" width="5.83" height="6.18" fill="#4a95c8" /><rect x="427.53" y="113.08" width="5.83" height="6.18" fill="#fcdccb" /><rect x="433.06" y="113.08" width="5.83" height="6.18" fill="#4a95c8" /><rect x="438.59" y="113.08" width="5.83" height="6.18" fill="#2166ac" /><rect x="444.12" y="113.08" width="5.83" height="6.18" fill="#f4f4f5" /><rect x="449.65" y="113.08" width="5.83" height="6.18" fill="#4a95c8" /><rect x="455.18" y="113.08" width="5.83" height="6.18" fill="#9ecae1" /><rect x="460.71" y="113.08" width="5.83" height="6.18" fill="#d6e6f2" /><rect x="466.24" y="113.08" width="5.83" height="6.18" fill="#d6e6f2" /><rect x="472.6" y="113.08" width="5.83" height="6.18" fill="#6c0020" /><rect x="478.13" y="113.08" width="5.83" height="6.18" fill="#fcdccb" /><rect x="483.66" y="113.08" width="5.83" height="6.18" fill="#f6a886" /><rect x="489.19" y="113.08" width="5.83" height="6.18" fill="#d6e6f2" /><rect x="494.72" y="113.08" width="5.83" height="6.18" fill="#fcdccb" /><rect x="500.25" y="113.08" width="5.83" height="6.18" fill="#d6e6f2" /><rect x="505.78" y="113.08" width="5.83" height="6.18" fill="#dc6a55" /><rect x="511.31" y="113.08" width="5.83" height="6.18" fill="#f6a886" /><rect x="516.84" y="113.08" width="5.83" height="6.18" fill="#f6a886" /><rect x="522.37" y="113.08" width="5.83" height="6.18" fill="#d6e6f2" /><rect x="527.9" y="113.08" width="5.83" height="6.18" fill="#f6a886" /><rect x="422" y="120.2" width="5.83" height="6.18" fill="#f6a886" /><rect x="427.53" y="120.2" width="5.83" height="6.18" fill="#fcdccb" /><rect x="433.06" y="120.2" width="5.83" height="6.18" fill="#6c0020" /><rect x="438.59" y="120.2" width="5.83" height="6.18" fill="#dc6a55" /><rect x="444.12" y="120.2" width="5.83" height="6.18" fill="#fcdccb" /><rect x="449.65" y="120.2" width="5.83" height="6.18" fill="#be2d36" /><rect x="455.18" y="120.2" width="5.83" height="6.18" fill="#f4f4f5" /><rect x="460.71" y="120.2" width="5.83" height="6.18" fill="#d6e6f2" /><rect x="466.24" y="120.2" width="5.83" height="6.18" fill="#fcdccb" /><rect x="472.6" y="120.2" width="5.83" height="6.18" fill="#9ecae1" /><rect x="478.13" y="120.2" width="5.83" height="6.18" fill="#f4f4f5" /><rect x="483.66" y="120.2" width="5.83" height="6.18" fill="#fcdccb" /><rect x="489.19" y="120.2" width="5.83" height="6.18" fill="#d6e6f2" /><rect x="494.72" y="120.2" width="5.83" height="6.18" fill="#4a95c8" /><rect x="500.25" y="120.2" width="5.83" height="6.18" fill="#4a95c8" /><rect x="505.78" y="120.2" width="5.83" height="6.18" fill="#2166ac" /><rect x="511.31" y="120.2" width="5.83" height="6.18" fill="#9ecae1" /><rect x="516.84" y="120.2" width="5.83" height="6.18" fill="#f4f4f5" /><rect x="522.37" y="120.2" width="5.83" height="6.18" fill="#d6e6f2" /><rect x="527.9" y="120.2" width="5.83" height="6.18" fill="#4a95c8" /><rect x="422" y="126.08" width="5.83" height="6.18" fill="#be2d36" /><rect x="427.53" y="126.08" width="5.83" height="6.18" fill="#9ecae1" /><rect x="433.06" y="126.08" width="5.83" height="6.18" fill="#6c0020" /><rect x="438.59" y="126.08" width="5.83" height="6.18" fill="#dc6a55" /><rect x="444.12" y="126.08" width="5.83" height="6.18" fill="#d6e6f2" /><rect x="449.65" y="126.08" width="5.83" height="6.18" fill="#9ecae1" /><rect x="455.18" y="126.08" width="5.83" height="6.18" fill="#fcdccb" /><rect x="460.71" y="126.08" width="5.83" height="6.18" fill="#d6e6f2" /><rect x="466.24" y="126.08" width="5.83" height="6.18" fill="#dc6a55" /><rect x="472.6" y="126.08" width="5.83" height="6.18" fill="#f4f4f5" /><rect x="478.13" y="126.08" width="5.83" height="6.18" fill="#9ecae1" /><rect x="483.66" y="126.08" width="5.83" height="6.18" fill="#9ecae1" /><rect x="489.19" y="126.08" width="5.83" height="6.18" fill="#f4f4f5" /><rect x="494.72" y="126.08" width="5.83" height="6.18" fill="#4a95c8" /><rect x="500.25" y="126.08" width="5.83" height="6.18" fill="#d6e6f2" /><rect x="505.78" y="126.08" width="5.83" height="6.18" fill="#f4f4f5" /><rect x="511.31" y="126.08" width="5.83" height="6.18" fill="#d6e6f2" /><rect x="516.84" y="126.08" width="5.83" height="6.18" fill="#fcdccb" /><rect x="522.37" y="126.08" width="5.83" height="6.18" fill="#2166ac" /><rect x="527.9" y="126.08" width="5.83" height="6.18" fill="#9ecae1" /><rect x="422" y="131.96" width="5.83" height="6.18" fill="#f6a886" /><rect x="427.53" y="131.96" width="5.83" height="6.18" fill="#f4f4f5" /><rect x="433.06" y="131.96" width="5.83" height="6.18" fill="#f6a886" /><rect x="438.59" y="131.96" width="5.83" height="6.18" fill="#dc6a55" /><rect x="444.12" y="131.96" width="5.83" height="6.18" fill="#6c0020" /><rect x="449.65" y="131.96" width="5.83" height="6.18" fill="#d6e6f2" /><rect x="455.18" y="131.96" width="5.83" height="6.18" fill="#fcdccb" /><rect x="460.71" y="131.96" width="5.83" height="6.18" fill="#6c0020" /><rect x="466.24" y="131.96" width="5.83" height="6.18" fill="#f6a886" /><rect x="472.6" y="131.96" width="5.83" height="6.18" fill="#9ecae1" /><rect x="478.13" y="131.96" width="5.83" height="6.18" fill="#d6e6f2" /><rect x="483.66" y="131.96" width="5.83" height="6.18" fill="#d6e6f2" /><rect x="489.19" y="131.96" width="5.83" height="6.18" fill="#fcdccb" /><rect x="494.72" y="131.96" width="5.83" height="6.18" fill="#d6e6f2" /><rect x="500.25" y="131.96" width="5.83" height="6.18" fill="#d6e6f2" /><rect x="505.78" y="131.96" width="5.83" height="6.18" fill="#d6e6f2" /><rect x="511.31" y="131.96" width="5.83" height="6.18" fill="#9ecae1" /><rect x="516.84" y="131.96" width="5.83" height="6.18" fill="#4a95c8" /><rect x="522.37" y="131.96" width="5.83" height="6.18" fill="#0b3b78" /><rect x="527.9" y="131.96" width="5.83" height="6.18" fill="#2166ac" /><rect x="422" y="137.84" width="5.83" height="6.18" fill="#d6e6f2" /><rect x="427.53" y="137.84" width="5.83" height="6.18" fill="#4a95c8" /><rect x="433.06" y="137.84" width="5.83" height="6.18" fill="#6c0020" /><rect x="438.59" y="137.84" width="5.83" height="6.18" fill="#fcdccb" /><rect x="444.12" y="137.84" width="5.83" height="6.18" fill="#f6a886" /><rect x="449.65" y="137.84" width="5.83" height="6.18" fill="#dc6a55" /><rect x="455.18" y="137.84" width="5.83" height="6.18" fill="#9ecae1" /><rect x="460.71" y="137.84" width="5.83" height="6.18" fill="#be2d36" /><rect x="466.24" y="137.84" width="5.83" height="6.18" fill="#f4f4f5" /><rect x="472.6" y="137.84" width="5.83" height="6.18" fill="#d6e6f2" /><rect x="478.13" y="137.84" width="5.83" height="6.18" fill="#4a95c8" /><rect x="483.66" y="137.84" width="5.83" height="6.18" fill="#f4f4f5" /><rect x="489.19" y="137.84" width="5.83" height="6.18" fill="#9ecae1" /><rect x="494.72" y="137.84" width="5.83" height="6.18" fill="#9ecae1" /><rect x="500.25" y="137.84" width="5.83" height="6.18" fill="#fcdccb" /><rect x="505.78" y="137.84" width="5.83" height="6.18" fill="#d6e6f2" /><rect x="511.31" y="137.84" width="5.83" height="6.18" fill="#fcdccb" /><rect x="516.84" y="137.84" width="5.83" height="6.18" fill="#d6e6f2" /><rect x="522.37" y="137.84" width="5.83" height="6.18" fill="#d6e6f2" /><rect x="527.9" y="137.84" width="5.83" height="6.18" fill="#9ecae1" /><rect x="422" y="143.72" width="5.83" height="6.18" fill="#f6a886" /><rect x="427.53" y="143.72" width="5.83" height="6.18" fill="#4a95c8" /><rect x="433.06" y="143.72" width="5.83" height="6.18" fill="#f6a886" /><rect x="438.59" y="143.72" width="5.83" height="6.18" fill="#f6a886" /><rect x="444.12" y="143.72" width="5.83" height="6.18" fill="#d6e6f2" /><rect x="449.65" y="143.72" width="5.83" height="6.18" fill="#6c0020" /><rect x="455.18" y="143.72" width="5.83" height="6.18" fill="#fcdccb" /><rect x="460.71" y="143.72" width="5.83" height="6.18" fill="#dc6a55" /><rect x="466.24" y="143.72" width="5.83" height="6.18" fill="#f6a886" /><rect x="472.6" y="143.72" width="5.83" height="6.18" fill="#4a95c8" /><rect x="478.13" y="143.72" width="5.83" height="6.18" fill="#fcdccb" /><rect x="483.66" y="143.72" width="5.83" height="6.18" fill="#f6a886" /><rect x="489.19" y="143.72" width="5.83" height="6.18" fill="#f4f4f5" /><rect x="494.72" y="143.72" width="5.83" height="6.18" fill="#f4f4f5" /><rect x="500.25" y="143.72" width="5.83" height="6.18" fill="#d6e6f2" /><rect x="505.78" y="143.72" width="5.83" height="6.18" fill="#4a95c8" /><rect x="511.31" y="143.72" width="5.83" height="6.18" fill="#4a95c8" /><rect x="516.84" y="143.72" width="5.83" height="6.18" fill="#9ecae1" /><rect x="522.37" y="143.72" width="5.83" height="6.18" fill="#0b3b78" /><rect x="527.9" y="143.72" width="5.83" height="6.18" fill="#d6e6f2" /><rect x="422" y="149.6" width="5.83" height="6.18" fill="#f4f4f5" /><rect x="427.53" y="149.6" width="5.83" height="6.18" fill="#fcdccb" /><rect x="433.06" y="149.6" width="5.83" height="6.18" fill="#f6a886" /><rect x="438.59" y="149.6" width="5.83" height="6.18" fill="#dc6a55" /><rect x="444.12" y="149.6" width="5.83" height="6.18" fill="#f4f4f5" /><rect x="449.65" y="149.6" width="5.83" height="6.18" fill="#6c0020" /><rect x="455.18" y="149.6" width="5.83" height="6.18" fill="#f4f4f5" /><rect x="460.71" y="149.6" width="5.83" height="6.18" fill="#dc6a55" /><rect x="466.24" y="149.6" width="5.83" height="6.18" fill="#fcdccb" /><rect x="472.6" y="149.6" width="5.83" height="6.18" fill="#9ecae1" /><rect x="478.13" y="149.6" width="5.83" height="6.18" fill="#fcdccb" /><rect x="483.66" y="149.6" width="5.83" height="6.18" fill="#f6a886" /><rect x="489.19" y="149.6" width="5.83" height="6.18" fill="#d6e6f2" /><rect x="494.72" y="149.6" width="5.83" height="6.18" fill="#fcdccb" /><rect x="500.25" y="149.6" width="5.83" height="6.18" fill="#f4f4f5" /><rect x="505.78" y="149.6" width="5.83" height="6.18" fill="#4a95c8" /><rect x="511.31" y="149.6" width="5.83" height="6.18" fill="#4a95c8" /><rect x="516.84" y="149.6" width="5.83" height="6.18" fill="#4a95c8" /><rect x="522.37" y="149.6" width="5.83" height="6.18" fill="#0b3b78" /><rect x="527.9" y="149.6" width="5.83" height="6.18" fill="#d6e6f2" /><rect x="422" y="155.48" width="5.83" height="6.18" fill="#d6e6f2" /><rect x="427.53" y="155.48" width="5.83" height="6.18" fill="#9ecae1" /><rect x="433.06" y="155.48" width="5.83" height="6.18" fill="#dc6a55" /><rect x="438.59" y="155.48" width="5.83" height="6.18" fill="#dc6a55" /><rect x="444.12" y="155.48" width="5.83" height="6.18" fill="#d6e6f2" /><rect x="449.65" y="155.48" width="5.83" height="6.18" fill="#6c0020" /><rect x="455.18" y="155.48" width="5.83" height="6.18" fill="#6c0020" /><rect x="460.71" y="155.48" width="5.83" height="6.18" fill="#d6e6f2" /><rect x="466.24" y="155.48" width="5.83" height="6.18" fill="#d6e6f2" /><rect x="472.6" y="155.48" width="5.83" height="6.18" fill="#9ecae1" /><rect x="478.13" y="155.48" width="5.83" height="6.18" fill="#9ecae1" /><rect x="483.66" y="155.48" width="5.83" height="6.18" fill="#f4f4f5" /><rect x="489.19" y="155.48" width="5.83" height="6.18" fill="#9ecae1" /><rect x="494.72" y="155.48" width="5.83" height="6.18" fill="#dc6a55" /><rect x="500.25" y="155.48" width="5.83" height="6.18" fill="#d6e6f2" /><rect x="505.78" y="155.48" width="5.83" height="6.18" fill="#9ecae1" /><rect x="511.31" y="155.48" width="5.83" height="6.18" fill="#9ecae1" /><rect x="516.84" y="155.48" width="5.83" height="6.18" fill="#d6e6f2" /><rect x="522.37" y="155.48" width="5.83" height="6.18" fill="#d6e6f2" /><rect x="527.9" y="155.48" width="5.83" height="6.18" fill="#4a95c8" /><rect x="422" y="161.36" width="5.83" height="6.18" fill="#fcdccb" /><rect x="427.53" y="161.36" width="5.83" height="6.18" fill="#4a95c8" /><rect x="433.06" y="161.36" width="5.83" height="6.18" fill="#f4f4f5" /><rect x="438.59" y="161.36" width="5.83" height="6.18" fill="#f4f4f5" /><rect x="444.12" y="161.36" width="5.83" height="6.18" fill="#f4f4f5" /><rect x="449.65" y="161.36" width="5.83" height="6.18" fill="#be2d36" /><rect x="455.18" y="161.36" width="5.83" height="6.18" fill="#fcdccb" /><rect x="460.71" y="161.36" width="5.83" height="6.18" fill="#fcdccb" /><rect x="466.24" y="161.36" width="5.83" height="6.18" fill="#6c0020" /><rect x="472.6" y="161.36" width="5.83" height="6.18" fill="#9ecae1" /><rect x="478.13" y="161.36" width="5.83" height="6.18" fill="#4a95c8" /><rect x="483.66" y="161.36" width="5.83" height="6.18" fill="#4a95c8" /><rect x="489.19" y="161.36" width="5.83" height="6.18" fill="#9ecae1" /><rect x="494.72" y="161.36" width="5.83" height="6.18" fill="#dc6a55" /><rect x="500.25" y="161.36" width="5.83" height="6.18" fill="#f4f4f5" /><rect x="505.78" y="161.36" width="5.83" height="6.18" fill="#4a95c8" /><rect x="511.31" y="161.36" width="5.83" height="6.18" fill="#fcdccb" /><rect x="516.84" y="161.36" width="5.83" height="6.18" fill="#f6a886" /><rect x="522.37" y="161.36" width="5.83" height="6.18" fill="#d6e6f2" /><rect x="527.9" y="161.36" width="5.83" height="6.18" fill="#9ecae1" /><rect x="422" y="167.24" width="5.83" height="6.18" fill="#fcdccb" /><rect x="427.53" y="167.24" width="5.83" height="6.18" fill="#d6e6f2" /><rect x="433.06" y="167.24" width="5.83" height="6.18" fill="#dc6a55" /><rect x="438.59" y="167.24" width="5.83" height="6.18" fill="#fcdccb" /><rect x="444.12" y="167.24" width="5.83" height="6.18" fill="#f4f4f5" /><rect x="449.65" y="167.24" width="5.83" height="6.18" fill="#6c0020" /><rect x="455.18" y="167.24" width="5.83" height="6.18" fill="#be2d36" /><rect x="460.71" y="167.24" width="5.83" height="6.18" fill="#f4f4f5" /><rect x="466.24" y="167.24" width="5.83" height="6.18" fill="#fcdccb" /><rect x="472.6" y="167.24" width="5.83" height="6.18" fill="#f4f4f5" /><rect x="478.13" y="167.24" width="5.83" height="6.18" fill="#9ecae1" /><rect x="483.66" y="167.24" width="5.83" height="6.18" fill="#9ecae1" /><rect x="489.19" y="167.24" width="5.83" height="6.18" fill="#9ecae1" /><rect x="494.72" y="167.24" width="5.83" height="6.18" fill="#4a95c8" /><rect x="500.25" y="167.24" width="5.83" height="6.18" fill="#4a95c8" /><rect x="505.78" y="167.24" width="5.83" height="6.18" fill="#d6e6f2" /><rect x="511.31" y="167.24" width="5.83" height="6.18" fill="#4a95c8" /><rect x="516.84" y="167.24" width="5.83" height="6.18" fill="#9ecae1" /><rect x="522.37" y="167.24" width="5.83" height="6.18" fill="#6c0020" /><rect x="527.9" y="167.24" width="5.83" height="6.18" fill="#9ecae1" /><rect x="422" y="173.12" width="5.83" height="6.18" fill="#f6a886" /><rect x="427.53" y="173.12" width="5.83" height="6.18" fill="#f6a886" /><rect x="433.06" y="173.12" width="5.83" height="6.18" fill="#f6a886" /><rect x="438.59" y="173.12" width="5.83" height="6.18" fill="#9ecae1" /><rect x="444.12" y="173.12" width="5.83" height="6.18" fill="#fcdccb" /><rect x="449.65" y="173.12" width="5.83" height="6.18" fill="#fcdccb" /><rect x="455.18" y="173.12" width="5.83" height="6.18" fill="#d6e6f2" /><rect x="460.71" y="173.12" width="5.83" height="6.18" fill="#fcdccb" /><rect x="466.24" y="173.12" width="5.83" height="6.18" fill="#6c0020" /><rect x="472.6" y="173.12" width="5.83" height="6.18" fill="#fcdccb" /><rect x="478.13" y="173.12" width="5.83" height="6.18" fill="#d6e6f2" /><rect x="483.66" y="173.12" width="5.83" height="6.18" fill="#f4f4f5" /><rect x="489.19" y="173.12" width="5.83" height="6.18" fill="#0b3b78" /><rect x="494.72" y="173.12" width="5.83" height="6.18" fill="#f4f4f5" /><rect x="500.25" y="173.12" width="5.83" height="6.18" fill="#4a95c8" /><rect x="505.78" y="173.12" width="5.83" height="6.18" fill="#dc6a55" /><rect x="511.31" y="173.12" width="5.83" height="6.18" fill="#9ecae1" /><rect x="516.84" y="173.12" width="5.83" height="6.18" fill="#9ecae1" /><rect x="522.37" y="173.12" width="5.83" height="6.18" fill="#9ecae1" /><rect x="527.9" y="173.12" width="5.83" height="6.18" fill="#f6a886" /><rect x="422" y="179" width="5.83" height="6.18" fill="#be2d36" /><rect x="427.53" y="179" width="5.83" height="6.18" fill="#f6a886" /><rect x="433.06" y="179" width="5.83" height="6.18" fill="#fcdccb" /><rect x="438.59" y="179" width="5.83" height="6.18" fill="#f6a886" /><rect x="444.12" y="179" width="5.83" height="6.18" fill="#dc6a55" /><rect x="449.65" y="179" width="5.83" height="6.18" fill="#f4f4f5" /><rect x="455.18" y="179" width="5.83" height="6.18" fill="#d6e6f2" /><rect x="460.71" y="179" width="5.83" height="6.18" fill="#f6a886" /><rect x="466.24" y="179" width="5.83" height="6.18" fill="#fcdccb" /><rect x="472.6" y="179" width="5.83" height="6.18" fill="#f6a886" /><rect x="478.13" y="179" width="5.83" height="6.18" fill="#f6a886" /><rect x="483.66" y="179" width="5.83" height="6.18" fill="#9ecae1" /><rect x="489.19" y="179" width="5.83" height="6.18" fill="#0b3b78" /><rect x="494.72" y="179" width="5.83" height="6.18" fill="#d6e6f2" /><rect x="500.25" y="179" width="5.83" height="6.18" fill="#d6e6f2" /><rect x="505.78" y="179" width="5.83" height="6.18" fill="#0b3b78" /><rect x="511.31" y="179" width="5.83" height="6.18" fill="#fcdccb" /><rect x="516.84" y="179" width="5.83" height="6.18" fill="#9ecae1" /><rect x="522.37" y="179" width="5.83" height="6.18" fill="#0b3b78" /><rect x="527.9" y="179" width="5.83" height="6.18" fill="#f4f4f5" /><rect x="422" y="184.88" width="5.83" height="6.18" fill="#6c0020" /><rect x="427.53" y="184.88" width="5.83" height="6.18" fill="#f6a886" /><rect x="433.06" y="184.88" width="5.83" height="6.18" fill="#fcdccb" /><rect x="438.59" y="184.88" width="5.83" height="6.18" fill="#d6e6f2" /><rect x="444.12" y="184.88" width="5.83" height="6.18" fill="#d6e6f2" /><rect x="449.65" y="184.88" width="5.83" height="6.18" fill="#fcdccb" /><rect x="455.18" y="184.88" width="5.83" height="6.18" fill="#f4f4f5" /><rect x="460.71" y="184.88" width="5.83" height="6.18" fill="#dc6a55" /><rect x="466.24" y="184.88" width="5.83" height="6.18" fill="#dc6a55" /><rect x="472.6" y="184.88" width="5.83" height="6.18" fill="#0b3b78" /><rect x="478.13" y="184.88" width="5.83" height="6.18" fill="#fcdccb" /><rect x="483.66" y="184.88" width="5.83" height="6.18" fill="#dc6a55" /><rect x="489.19" y="184.88" width="5.83" height="6.18" fill="#fcdccb" /><rect x="494.72" y="184.88" width="5.83" height="6.18" fill="#d6e6f2" /><rect x="500.25" y="184.88" width="5.83" height="6.18" fill="#2166ac" /><rect x="505.78" y="184.88" width="5.83" height="6.18" fill="#4a95c8" /><rect x="511.31" y="184.88" width="5.83" height="6.18" fill="#d6e6f2" /><rect x="516.84" y="184.88" width="5.83" height="6.18" fill="#f4f4f5" /><rect x="522.37" y="184.88" width="5.83" height="6.18" fill="#9ecae1" /><rect x="527.9" y="184.88" width="5.83" height="6.18" fill="#9ecae1" /></g>
<rect x="422.00" y="19.00" width="49.77" height="99.96" fill="none" stroke="#6a6a6a" stroke-width="0.6"/>
<rect x="422.00" y="120.20" width="49.77" height="70.56" fill="none" stroke="#6a6a6a" stroke-width="0.6"/>
<rect x="472.60" y="19.00" width="60.83" height="99.96" fill="none" stroke="#6a6a6a" stroke-width="0.6"/>
<rect x="472.60" y="120.20" width="60.83" height="70.56" fill="none" stroke="#6a6a6a" stroke-width="0.6"/>
<line x1="472.3" y1="19" x2="472.3" y2="191" stroke="#333" stroke-width="0.9" />
<line x1="422" y1="119.7" x2="533.5" y2="119.7" stroke="#333" stroke-width="0.9" />
<rect x="421.9" y="10.3" width="50.1" height="7.8" fill="#e64b35" stroke="#777" stroke-width="0.4"/>
<rect x="472.1" y="10.3" width="61.4" height="7.8" fill="#4dbbd5" stroke="#777" stroke-width="0.4"/>
<text x="446.6" y="15.9" font-size="5.2" fill="#fff" text-anchor="middle">AZS_C1</text>
<text x="502.7" y="15.9" font-size="5.2" fill="#fff" text-anchor="middle">AZS_C2</text>
<rect x="412.9" y="19.0" width="8.1" height="100.3" fill="#c1432c" stroke="#777" stroke-width="0.4"/>
<rect x="412.9" y="120.2" width="8.1" height="70.8" fill="#1a72b8" stroke="#777" stroke-width="0.4"/>
<text transform="translate(418.6,69.2) rotate(-90)" font-size="5.2" fill="#fff" text-anchor="middle">Down-regulated</text>
<text transform="translate(418.6,155.6) rotate(-90)" font-size="5.2" fill="#fff" text-anchor="middle">Up-regulated</text>
<text x="535.29" y="86.20" font-size="9.6" textLength="35.17" lengthAdjust="spacingAndGlyphs" >Z-score</text>
<defs><linearGradient id="zs" x1="0" y1="0" x2="0" y2="1"><stop offset="0" stop-color="#67001f"/><stop offset="0.25" stop-color="#d6604d"/><stop offset="0.5" stop-color="#f7f7f7"/><stop offset="0.75" stop-color="#4393c3"/><stop offset="1" stop-color="#053061"/></linearGradient></defs>
<rect x="535.1" y="97.1" width="4" height="19.7" fill="url(#zs)" />
<text transform="translate(542.0,98.4) scale(0.8,1)" font-size="6.4" fill="#1a1a1a" stroke="#1a1a1a" stroke-width="0.25">2</text>
<text transform="translate(542.0,102.8) scale(0.8,1)" font-size="6.4" fill="#1a1a1a" stroke="#1a1a1a" stroke-width="0.25">1</text>
<text transform="translate(542.0,108.5) scale(0.8,1)" font-size="6.4" fill="#1a1a1a" stroke="#1a1a1a" stroke-width="0.25">0</text>
<text transform="translate(542.0,113.8) scale(0.8,1)" font-size="6.4" fill="#1a1a1a" stroke="#1a1a1a" stroke-width="0.25">-1</text>
<text transform="translate(542.0,117.6) scale(0.8,1)" font-size="6.4" fill="#1a1a1a" stroke="#1a1a1a" stroke-width="0.25">-2</text>
<text x="25.32" y="258.80" font-size="12.5" textLength="33.00" lengthAdjust="spacingAndGlyphs" >CLIC1</text>
<line x1="66" y1="254.2" x2="245.5" y2="254.2" stroke="#e9e9e9" stroke-width="0.6" stroke-dasharray="2.0,1.2"/>
<text x="20.25" y="272.99" font-size="12.5" textLength="38.89" lengthAdjust="spacingAndGlyphs" >RAB4B</text>
<line x1="66" y1="268.39" x2="245.5" y2="268.39" stroke="#e9e9e9" stroke-width="0.6" stroke-dasharray="2.0,1.2"/>
<text x="18.75" y="287.18" font-size="12.5" textLength="40.34" lengthAdjust="spacingAndGlyphs" >PCDH7</text>
<line x1="66" y1="282.58" x2="245.5" y2="282.58" stroke="#e9e9e9" stroke-width="0.6" stroke-dasharray="2.0,1.2"/>
<text x="32.90" y="301.37" font-size="12.5" textLength="26.79" lengthAdjust="spacingAndGlyphs" >GRN</text>
<line x1="66" y1="296.77" x2="245.5" y2="296.77" stroke="#e9e9e9" stroke-width="0.6" stroke-dasharray="2.0,1.2"/>
<text x="19.70" y="315.56" font-size="12.5" textLength="39.99" lengthAdjust="spacingAndGlyphs" >ANPEP</text>
<line x1="66" y1="310.96" x2="245.5" y2="310.96" stroke="#e9e9e9" stroke-width="0.6" stroke-dasharray="2.0,1.2"/>
<text x="14.06" y="329.75" font-size="12.5" textLength="45.53" lengthAdjust="spacingAndGlyphs" >TSPAN6</text>
<line x1="66" y1="325.15" x2="245.5" y2="325.15" stroke="#e9e9e9" stroke-width="0.6" stroke-dasharray="2.0,1.2"/>
<text x="31.14" y="343.94" font-size="12.5" textLength="28.08" lengthAdjust="spacingAndGlyphs" >MME</text>
<line x1="66" y1="339.34" x2="245.5" y2="339.34" stroke="#e9e9e9" stroke-width="0.6" stroke-dasharray="2.0,1.2"/>
<text x="21.72" y="358.13" font-size="12.5" textLength="36.59" lengthAdjust="spacingAndGlyphs" >GDF11</text>
<line x1="66" y1="353.53" x2="245.5" y2="353.53" stroke="#e9e9e9" stroke-width="0.6" stroke-dasharray="2.0,1.2"/>
<text x="27.03" y="372.32" font-size="12.5" textLength="32.31" lengthAdjust="spacingAndGlyphs" >NPC2</text>
<line x1="66" y1="367.72" x2="245.5" y2="367.72" stroke="#e9e9e9" stroke-width="0.6" stroke-dasharray="2.0,1.2"/>
<text x="20.45" y="386.51" font-size="12.5" textLength="39.10" lengthAdjust="spacingAndGlyphs" >PRELP</text>
<line x1="66" y1="381.91" x2="245.5" y2="381.91" stroke="#e9e9e9" stroke-width="0.6" stroke-dasharray="2.0,1.2"/>
<line x1="159.3" y1="240.5" x2="159.3" y2="396.4" stroke="#c8c8c8" stroke-width="1.2" />
<line x1="66.4" y1="396.4" x2="245.4" y2="396.4" stroke="#333" stroke-width="0.9" />
<line x1="75.9" y1="396.4" x2="75.9" y2="398.2" stroke="#333" stroke-width="0.7" />
<line x1="96.78" y1="396.4" x2="96.78" y2="398.2" stroke="#333" stroke-width="0.7" />
<line x1="117.65" y1="396.4" x2="117.65" y2="398.2" stroke="#333" stroke-width="0.7" />
<line x1="138.53" y1="396.4" x2="138.53" y2="398.2" stroke="#333" stroke-width="0.7" />
<line x1="159.4" y1="396.4" x2="159.4" y2="398.2" stroke="#333" stroke-width="0.7" />
<line x1="180.28" y1="396.4" x2="180.28" y2="398.2" stroke="#333" stroke-width="0.7" />
<line x1="201.15" y1="396.4" x2="201.15" y2="398.2" stroke="#333" stroke-width="0.7" />
<line x1="222.03" y1="396.4" x2="222.03" y2="398.2" stroke="#333" stroke-width="0.7" />
<line x1="242.9" y1="396.4" x2="242.9" y2="398.2" stroke="#333" stroke-width="0.7" />
<text x="64.11" y="408.30" font-size="10.3" textLength="23.48" lengthAdjust="spacingAndGlyphs" fill="#222" >-0.10</text>
<text x="105.88" y="408.30" font-size="10.3" textLength="23.48" lengthAdjust="spacingAndGlyphs" fill="#222" >-0.05</text>
<text x="149.36" y="408.30" font-size="10.3" textLength="20.05" lengthAdjust="spacingAndGlyphs" fill="#222" >0.00</text>
<text x="191.13" y="408.30" font-size="10.3" textLength="20.05" lengthAdjust="spacingAndGlyphs" fill="#222" >0.05</text>
<text x="232.36" y="408.30" font-size="10.3" textLength="20.05" lengthAdjust="spacingAndGlyphs" fill="#222" >0.10</text>
<text x="60.25" y="420.80" font-size="12.6" textLength="204.72" lengthAdjust="spacingAndGlyphs" >SHAP value (impact on model output)</text>
<defs><linearGradient id="shapg" x1="0" y1="0" x2="0" y2="1"><stop offset="0" stop-color="#ff0052"/><stop offset="0.3" stop-color="#d1149e"/><stop offset="0.5" stop-color="#9e3dcc"/><stop offset="0.72" stop-color="#6a6ce6"/><stop offset="1" stop-color="#008bfb"/></linearGradient></defs>
<rect x="256.2" y="239.8" width="2" height="156.4" fill="url(#shapg)" />
<text x="257.67" y="249.80" font-size="12.4" textLength="26.38" lengthAdjust="spacingAndGlyphs" >High</text>
<text x="257.70" y="396.00" font-size="12.4" textLength="22.89" lengthAdjust="spacingAndGlyphs" >Low</text>
<text transform="translate(278.80,353.75) rotate(-90)" x="0" y="0" font-size="12.4" textLength="79.93" lengthAdjust="spacingAndGlyphs" >Feature value</text>
<g transform="translate(0,254.20)"><circle cx="74.9" cy="-4.6" r="1" fill="#e0168a" /><circle cx="74.9" cy="-3.45" r="1" fill="#ff0052" /><circle cx="74.9" cy="-2.3" r="1" fill="#9e3dcc" /><circle cx="74.9" cy="-1.15" r="1" fill="#ff0052" /><circle cx="74.9" cy="0" r="1" fill="#008bfb" /><circle cx="74.9" cy="1.15" r="1" fill="#ff0052" /><circle cx="74.9" cy="2.3" r="1" fill="#e0168a" /><circle cx="74.9" cy="3.45" r="1" fill="#008bfb" /><circle cx="74.9" cy="4.6" r="1" fill="#ff0052" /><circle cx="75.6" cy="-2" r="1" fill="#ff0052" /><circle cx="75.6" cy="0" r="1" fill="#e0168a" /><circle cx="75.6" cy="2" r="1" fill="#ff0052" /><circle cx="79.8" cy="0" r="0.9" fill="#e0168a" /><circle cx="81.4" cy="-0.8" r="0.9" fill="#ff0052" /><circle cx="81.4" cy="0.8" r="0.9" fill="#ff0052" /><circle cx="121" cy="0" r="0.9" fill="#008bfb" /><circle cx="127.8" cy="0" r="0.9" fill="#008bfb" /><circle cx="201.8" cy="0" r="0.9" fill="#008bfb" /></g>
<g transform="translate(0,268.39)"><circle cx="228.8" cy="-3.8" r="1" fill="#ff0052" /><circle cx="228.8" cy="-2.28" r="1" fill="#008bfb" /><circle cx="228.8" cy="-0.76" r="1" fill="#9e3dcc" /><circle cx="228.8" cy="0.76" r="1" fill="#008bfb" /><circle cx="228.8" cy="2.28" r="1" fill="#008bfb" /><circle cx="228.8" cy="3.8" r="1" fill="#ff0052" /><circle cx="229.8" cy="-1.5" r="1" fill="#008bfb" /><circle cx="229.8" cy="1.5" r="1" fill="#008bfb" /><circle cx="231.2" cy="0" r="0.9" fill="#008bfb" /><circle cx="233.4" cy="-2.8" r="1" fill="#ff0052" /><circle cx="233.4" cy="-0.93" r="1" fill="#ff0052" /><circle cx="233.4" cy="0.93" r="1" fill="#e0168a" /><circle cx="233.4" cy="2.8" r="1" fill="#ff0052" /><circle cx="237.6" cy="-0.6" r="0.9" fill="#9e3dcc" /><circle cx="237.6" cy="0.6" r="0.9" fill="#9e3dcc" /></g>
<g transform="translate(0,282.58)"><circle cx="92.1" cy="-4.6" r="1" fill="#008bfb" /><circle cx="92.1" cy="-3.29" r="1" fill="#9e3dcc" /><circle cx="92.1" cy="-1.97" r="1" fill="#008bfb" /><circle cx="92.1" cy="-0.66" r="1" fill="#9e3dcc" /><circle cx="92.1" cy="0.66" r="1" fill="#008bfb" /><circle cx="92.1" cy="1.97" r="1" fill="#008bfb" /><circle cx="92.1" cy="3.29" r="1" fill="#9e3dcc" /><circle cx="92.1" cy="4.6" r="1" fill="#008bfb" /><circle cx="91.2" cy="-1.2" r="1" fill="#9e3dcc" /><circle cx="91.2" cy="1.2" r="1" fill="#e0168a" /><circle cx="89.6" cy="0" r="0.9" fill="#e0168a" /><circle cx="116.5" cy="0" r="0.9" fill="#ff0052" /></g>
<g transform="translate(0,296.77)"><circle cx="79.3" cy="-4" r="1" fill="#e0168a" /><circle cx="79.3" cy="-2.4" r="1" fill="#ff0052" /><circle cx="79.3" cy="-0.8" r="1" fill="#008bfb" /><circle cx="79.3" cy="0.8" r="1" fill="#ff0052" /><circle cx="79.3" cy="2.4" r="1" fill="#e0168a" /><circle cx="79.3" cy="4" r="1" fill="#ff0052" /><circle cx="82.3" cy="0" r="0.9" fill="#9e3dcc" /><circle cx="87.8" cy="-1.8" r="1" fill="#008bfb" /><circle cx="87.8" cy="0" r="1" fill="#008bfb" /><circle cx="87.8" cy="1.8" r="1" fill="#9e3dcc" /><circle cx="85.9" cy="0" r="0.9" fill="#008bfb" /><circle cx="120.2" cy="-1.5" r="1" fill="#008bfb" /><circle cx="120.2" cy="0" r="1" fill="#008bfb" /><circle cx="120.2" cy="1.5" r="1" fill="#008bfb" /><circle cx="119.3" cy="0" r="0.9" fill="#008bfb" /><circle cx="177.7" cy="-0.7" r="0.9" fill="#008bfb" /><circle cx="177.7" cy="0.7" r="0.9" fill="#008bfb" /></g>
<g transform="translate(0,310.96)"><circle cx="216" cy="-3" r="1" fill="#008bfb" /><circle cx="216" cy="-1" r="1" fill="#008bfb" /><circle cx="216" cy="1" r="1" fill="#008bfb" /><circle cx="216" cy="3" r="1" fill="#008bfb" /><circle cx="217.2" cy="-2" r="1" fill="#008bfb" /><circle cx="217.2" cy="2" r="1" fill="#008bfb" /><circle cx="218.6" cy="-1.6" r="1" fill="#ff0052" /><circle cx="218.6" cy="1.6" r="1" fill="#e0168a" /><circle cx="220" cy="0" r="0.9" fill="#ff0052" /><circle cx="221.8" cy="0" r="0.9" fill="#008bfb" /><circle cx="223.6" cy="0" r="0.9" fill="#008bfb" /></g>
<g transform="translate(0,325.15)"><circle cx="105.8" cy="0" r="0.9" fill="#e0168a" /><circle cx="108.2" cy="0" r="0.9" fill="#ff0052" /><circle cx="109.6" cy="0" r="0.9" fill="#ff0052" /><circle cx="111.8" cy="-1.5" r="1" fill="#e0168a" /><circle cx="111.8" cy="1.5" r="1" fill="#ff0052" /><circle cx="115.4" cy="-3.5" r="1" fill="#ff0052" /><circle cx="115.4" cy="-1.75" r="1" fill="#e0168a" /><circle cx="115.4" cy="0" r="1" fill="#ff0052" /><circle cx="115.4" cy="1.75" r="1" fill="#9e3dcc" /><circle cx="115.4" cy="3.5" r="1" fill="#ff0052" /><circle cx="128.2" cy="0" r="0.9" fill="#008bfb" /><circle cx="131.3" cy="-2.8" r="1" fill="#008bfb" /><circle cx="131.3" cy="-0.93" r="1" fill="#008bfb" /><circle cx="131.3" cy="0.93" r="1" fill="#008bfb" /><circle cx="131.3" cy="2.8" r="1" fill="#008bfb" /><circle cx="151.5" cy="0" r="0.9" fill="#008bfb" /></g>
<g transform="translate(0,339.34)"><circle cx="127.4" cy="-4.2" r="1" fill="#008bfb" /><circle cx="127.4" cy="-2.8" r="1" fill="#9e3dcc" /><circle cx="127.4" cy="-1.4" r="1" fill="#008bfb" /><circle cx="127.4" cy="0" r="1" fill="#e0168a" /><circle cx="127.4" cy="1.4" r="1" fill="#008bfb" /><circle cx="127.4" cy="2.8" r="1" fill="#9e3dcc" /><circle cx="127.4" cy="4.2" r="1" fill="#008bfb" /><circle cx="128.4" cy="-1.5" r="1" fill="#008bfb" /><circle cx="128.4" cy="1.5" r="1" fill="#008bfb" /><circle cx="123.8" cy="0" r="0.9" fill="#008bfb" /></g>
<g transform="translate(0,353.53)"><circle cx="113.3" cy="0" r="0.9" fill="#ff0052" /><circle cx="114.6" cy="0" r="0.9" fill="#e0168a" /><circle cx="119.6" cy="-2.5" r="1" fill="#ff0052" /><circle cx="119.6" cy="0" r="1" fill="#e0168a" /><circle cx="119.6" cy="2.5" r="1" fill="#ff0052" /><circle cx="121.2" cy="0" r="0.9" fill="#ff0052" /><circle cx="172.3" cy="0" r="0.9" fill="#9e3dcc" /><circle cx="174.6" cy="0" r="0.9" fill="#9e3dcc" /><circle cx="182.2" cy="-3" r="1" fill="#008bfb" /><circle cx="182.2" cy="-1" r="1" fill="#008bfb" /><circle cx="182.2" cy="1" r="1" fill="#008bfb" /><circle cx="182.2" cy="3" r="1" fill="#008bfb" /><circle cx="184.3" cy="0" r="0.9" fill="#9e3dcc" /><circle cx="187.6" cy="-3.2" r="1" fill="#008bfb" /><circle cx="187.6" cy="-1.07" r="1" fill="#008bfb" /><circle cx="187.6" cy="1.07" r="1" fill="#008bfb" /><circle cx="187.6" cy="3.2" r="1" fill="#008bfb" /></g>
<g transform="translate(0,367.72)"><circle cx="143.8" cy="0" r="0.9" fill="#ff0052" /><circle cx="160.4" cy="0" r="0.9" fill="#ff0052" /><circle cx="187.6" cy="-4" r="1" fill="#008bfb" /><circle cx="187.6" cy="-2.4" r="1" fill="#9e3dcc" /><circle cx="187.6" cy="-0.8" r="1" fill="#008bfb" /><circle cx="187.6" cy="0.8" r="1" fill="#9e3dcc" /><circle cx="187.6" cy="2.4" r="1" fill="#008bfb" /><circle cx="187.6" cy="4" r="1" fill="#9e3dcc" /><circle cx="188.5" cy="-2" r="1" fill="#008bfb" /><circle cx="188.5" cy="2" r="1" fill="#9e3dcc" /></g>
<g transform="translate(0,381.91)"><circle cx="168.7" cy="-4.2" r="1" fill="#008bfb" /><circle cx="168.7" cy="-2.52" r="1" fill="#008bfb" /><circle cx="168.7" cy="-0.84" r="1" fill="#008bfb" /><circle cx="168.7" cy="0.84" r="1" fill="#9e3dcc" /><circle cx="168.7" cy="2.52" r="1" fill="#008bfb" /><circle cx="168.7" cy="4.2" r="1" fill="#008bfb" /><circle cx="170.4" cy="0" r="0.9" fill="#9e3dcc" /><circle cx="172.3" cy="0" r="0.9" fill="#e0168a" /></g>
<polyline points="368.5,388.5 368.5,298.5 386.5,298.5 386.5,285.5 439.5,285.5 439.5,272.5 492.5,272.5 527.5,247.5" fill="none" stroke="#1f77b4" stroke-width="1.1" stroke-linejoin="miter"/>
<polyline points="368.5,388.5 368.5,285.5 439.5,285.5 439.5,272.5 474.5,272.5 474.5,260.5 492.5,260.5 527.5,247.5" fill="none" stroke="#2ca02c" stroke-width="1.1" stroke-linejoin="miter"/>
<polyline points="368.5,388.5 368.5,311.5 386.5,311.5 386.5,260.5 404.5,247.5 527.5,247.5" fill="none" stroke="#d62728" stroke-width="1.1" stroke-linejoin="miter"/>
<polyline points="368.5,388.5 386.5,337.5 404.5,298.5 404.5,247.5 527.5,247.5" fill="none" stroke="#9467bd" stroke-width="1.1" stroke-linejoin="miter"/>
<polyline points="368.5,388.5 386.5,388.5 386.5,324.5 404.5,311.5 404.5,260.5 457.5,260.5 492.5,247.5 527.5,247.5" fill="none" stroke="#8c564b" stroke-width="1.1" stroke-linejoin="miter"/>
<polyline points="368.5,388.5 368.5,285.5 457.5,285.5 457.5,272.5 474.5,272.5 510.5,247.5 527.5,247.5" fill="none" stroke="#e377c2" stroke-width="1.1" stroke-linejoin="miter"/>
<polyline points="368.5,388.5 386.5,375.5 386.5,362.5 404.5,349.5 404.5,285.5 421.5,285.5 421.5,260.5 492.5,260.5 527.5,247.5" fill="none" stroke="#7f7f7f" stroke-width="1.1" stroke-linejoin="miter"/>
<polyline points="368.5,388.5 368.5,324.5 386.5,324.5 386.5,311.5 404.5,311.5 404.5,298.5 421.5,298.5 421.5,272.5 457.5,272.5 457.5,247.5 527.5,247.5" fill="none" stroke="#bcbd22" stroke-width="1.1" stroke-linejoin="miter"/>
<polyline points="368.5,388.5 386.5,337.5 386.5,311.5 404.5,298.5 404.5,260.5 457.5,260.5 474.5,247.5 527.5,247.5" fill="none" stroke="#17becf" stroke-width="1.1" stroke-linejoin="miter"/>
<polyline points="368.5,388.5 368.5,247.5 527.5,247.5" fill="none" stroke="#1f77b4" stroke-width="1.1" stroke-linejoin="miter"/>
<rect x="361.2" y="240.5" width="174.2" height="154.9" fill="none" stroke="#444" stroke-width="0.8"/>
<line x1="359.3" y1="388.4" x2="361.2" y2="388.4" stroke="#444" stroke-width="0.7" />
<line x1="368.8" y1="395.4" x2="368.8" y2="397.4" stroke="#444" stroke-width="0.7" />
<text x="341.84" y="392.10" font-size="10.3" textLength="14.32" lengthAdjust="spacingAndGlyphs" fill="#111" >0.0</text>
<text x="361.62" y="405.80" font-size="10.3" textLength="14.32" lengthAdjust="spacingAndGlyphs" fill="#111" >0.0</text>
<line x1="359.3" y1="360.18" x2="361.2" y2="360.18" stroke="#444" stroke-width="0.7" />
<line x1="400.58" y1="395.4" x2="400.58" y2="397.4" stroke="#444" stroke-width="0.7" />
<text x="342.00" y="363.88" font-size="10.3" textLength="14.32" lengthAdjust="spacingAndGlyphs" fill="#111" >0.2</text>
<text x="393.47" y="405.80" font-size="10.3" textLength="14.32" lengthAdjust="spacingAndGlyphs" fill="#111" >0.2</text>
<line x1="359.3" y1="331.96" x2="361.2" y2="331.96" stroke="#444" stroke-width="0.7" />
<line x1="432.36" y1="395.4" x2="432.36" y2="397.4" stroke="#444" stroke-width="0.7" />
<text x="341.79" y="335.66" font-size="10.3" textLength="14.32" lengthAdjust="spacingAndGlyphs" fill="#111" >0.4</text>
<text x="425.15" y="405.80" font-size="10.3" textLength="14.32" lengthAdjust="spacingAndGlyphs" fill="#111" >0.4</text>
<line x1="359.3" y1="303.74" x2="361.2" y2="303.74" stroke="#444" stroke-width="0.7" />
<line x1="464.14" y1="395.4" x2="464.14" y2="397.4" stroke="#444" stroke-width="0.7" />
<text x="341.90" y="307.44" font-size="10.3" textLength="14.32" lengthAdjust="spacingAndGlyphs" fill="#111" >0.6</text>
<text x="456.98" y="405.80" font-size="10.3" textLength="14.32" lengthAdjust="spacingAndGlyphs" fill="#111" >0.6</text>
<line x1="359.3" y1="275.52" x2="361.2" y2="275.52" stroke="#444" stroke-width="0.7" />
<line x1="495.92" y1="395.4" x2="495.92" y2="397.4" stroke="#444" stroke-width="0.7" />
<text x="341.90" y="279.22" font-size="10.3" textLength="14.32" lengthAdjust="spacingAndGlyphs" fill="#111" >0.8</text>
<text x="488.76" y="405.80" font-size="10.3" textLength="14.32" lengthAdjust="spacingAndGlyphs" fill="#111" >0.8</text>
<line x1="359.3" y1="247.3" x2="361.2" y2="247.3" stroke="#444" stroke-width="0.7" />
<line x1="527.7" y1="395.4" x2="527.7" y2="397.4" stroke="#444" stroke-width="0.7" />
<text x="341.84" y="251.00" font-size="10.3" textLength="14.32" lengthAdjust="spacingAndGlyphs" fill="#111" >1.0</text>
<text x="520.34" y="405.80" font-size="10.3" textLength="14.32" lengthAdjust="spacingAndGlyphs" fill="#111" >1.0</text>
<text transform="translate(335.40,347.68) rotate(-90)" x="0" y="0" font-size="12.6" textLength="58.00" lengthAdjust="spacingAndGlyphs" >Sensitivity</text>
<text x="414.55" y="422.50" font-size="12.5" textLength="68.06" lengthAdjust="spacingAndGlyphs" >1-Specificity</text>
<rect x="431.2" y="285.3" width="100.9" height="106.2" rx="1.8" fill="#fff" fill-opacity="0.8" stroke="#d4d4d4" stroke-width="0.7"/>
<line x1="433.9" y1="290.7" x2="447.9" y2="290.7" stroke="#1f77b4" stroke-width="1.05" />
<text x="449.40" y="293.90" font-size="10.0" textLength="64.22" lengthAdjust="spacingAndGlyphs" fill="#111" >PCDH7: 0.788</text>
<line x1="433.9" y1="300.25" x2="447.9" y2="300.25" stroke="#ff7f0e" stroke-width="1.05" />
<text x="449.70" y="303.45" font-size="10.0" textLength="61.61" lengthAdjust="spacingAndGlyphs" fill="#111" >GDF11: 0.798</text>
<line x1="433.9" y1="309.8" x2="447.9" y2="309.8" stroke="#2ca02c" stroke-width="1.05" />
<text x="449.40" y="313.00" font-size="10.0" textLength="63.32" lengthAdjust="spacingAndGlyphs" fill="#111" >PRELP: 0.818</text>
<line x1="433.9" y1="319.35" x2="447.9" y2="319.35" stroke="#d62728" stroke-width="1.05" />
<text x="449.41" y="322.55" font-size="10.0" textLength="62.92" lengthAdjust="spacingAndGlyphs" fill="#111" >RAB4B: 0.944</text>
<line x1="433.9" y1="328.9" x2="447.9" y2="328.9" stroke="#9467bd" stroke-width="1.05" />
<text x="449.71" y="332.10" font-size="10.0" textLength="64.78" lengthAdjust="spacingAndGlyphs" fill="#111" >CXADR: 0.854</text>
<line x1="433.9" y1="338.45" x2="447.9" y2="338.45" stroke="#8c564b" stroke-width="1.05" />
<text x="449.71" y="341.65" font-size="10.0" textLength="55.28" lengthAdjust="spacingAndGlyphs" fill="#111" >CD47: 0.793</text>
<line x1="433.9" y1="348" x2="447.9" y2="348" stroke="#e377c2" stroke-width="1.05" />
<text x="449.30" y="351.20" font-size="10.0" textLength="54.82" lengthAdjust="spacingAndGlyphs" fill="#111" >ITIH4: 0.808</text>
<line x1="433.9" y1="357.55" x2="447.9" y2="357.55" stroke="#7f7f7f" stroke-width="1.05" />
<text x="450.20" y="360.75" font-size="10.0" textLength="56.80" lengthAdjust="spacingAndGlyphs" fill="#111" >ANO7: 0.727</text>
<line x1="433.9" y1="367.1" x2="447.9" y2="367.1" stroke="#bcbd22" stroke-width="1.05" />
<text x="449.40" y="370.30" font-size="10.0" textLength="64.82" lengthAdjust="spacingAndGlyphs" fill="#111" >NCSTN: 0.808</text>
<line x1="433.9" y1="376.65" x2="447.9" y2="376.65" stroke="#17becf" stroke-width="1.05" />
<text x="449.75" y="379.85" font-size="10.0" textLength="79.44" lengthAdjust="spacingAndGlyphs" fill="#111" >SERPINA3: 0.828</text>
<line x1="433.9" y1="386.2" x2="447.9" y2="386.2" stroke="#1f77b4" stroke-width="1.05" />
<text x="450.20" y="389.40" font-size="10.0" textLength="64.64" lengthAdjust="spacingAndGlyphs" fill="#111" >All proteins:1.0</text>
<text x="625.03" y="27.60" font-size="11.6" textLength="39.94" lengthAdjust="spacingAndGlyphs" >RAB4B</text>
<line x1="609.3" y1="37.6" x2="680.7" y2="37.6" stroke="#444" stroke-width="0.9" />
<line x1="680.7" y1="37.6" x2="680.7" y2="143.8" stroke="#444" stroke-width="0.9" />
<line x1="609.3" y1="37.6" x2="609.3" y2="143.8" stroke="#444" stroke-width="0.9" />
<line x1="609.3" y1="143.8" x2="680.7" y2="143.8" stroke="#a0a0a0" stroke-width="1.1" />
<line x1="607.2" y1="144" x2="609.3" y2="144" stroke="#444" stroke-width="0.8" />
<text x="600.14" y="147.50" font-size="10.3" textLength="5.73" lengthAdjust="spacingAndGlyphs" fill="#111" >0</text>
<line x1="607.2" y1="108.7" x2="609.3" y2="108.7" stroke="#444" stroke-width="0.8" />
<text x="600.25" y="112.20" font-size="10.3" textLength="5.73" lengthAdjust="spacingAndGlyphs" fill="#111" >1</text>
<line x1="607.2" y1="73.4" x2="609.3" y2="73.4" stroke="#444" stroke-width="0.8" />
<text x="600.30" y="76.90" font-size="10.3" textLength="5.73" lengthAdjust="spacingAndGlyphs" fill="#111" >2</text>
<line x1="607.2" y1="38.1" x2="609.3" y2="38.1" stroke="#444" stroke-width="0.8" />
<text x="600.20" y="41.60" font-size="10.3" textLength="5.73" lengthAdjust="spacingAndGlyphs" fill="#111" >3</text>
<line x1="629.8" y1="143.8" x2="629.8" y2="146.4" stroke="#444" stroke-width="0.8" />
<line x1="660.5" y1="143.8" x2="660.5" y2="146.4" stroke="#444" stroke-width="0.8" />
<text x="630.11" y="49.00" font-size="10.8" textLength="37.46" lengthAdjust="spacingAndGlyphs" >0.0006</text>
<text transform="translate(593.60,102.60) rotate(-90)" x="0" y="0" font-size="12.6" textLength="26.13" lengthAdjust="spacingAndGlyphs" >Area</text>
<text transform="translate(633.20,158.60) rotate(-45)" x="0" y="0" font-size="12.2" text-anchor="end" textLength="40.35" lengthAdjust="spacingAndGlyphs">AZS-C1</text>
<text transform="translate(663.90,158.60) rotate(-45)" x="0" y="0" font-size="12.2" text-anchor="end" textLength="40.35" lengthAdjust="spacingAndGlyphs">AZS-C2</text>
<line x1="630" y1="134.4" x2="630" y2="137.9" stroke="#555" stroke-width="0.9" />
<line x1="625.1" y1="134.4" x2="634.6" y2="134.4" stroke="#666" stroke-width="0.9" />
<line x1="625.1" y1="137.9" x2="634.6" y2="137.9" stroke="#555" stroke-width="0.9" />
<line x1="620" y1="136" x2="639.8" y2="136" stroke="#333" stroke-width="1.0" />
<line x1="660.5" y1="83.4" x2="660.5" y2="113.2" stroke="#555" stroke-width="0.9" />
<line x1="655.1" y1="83.4" x2="665.1" y2="83.4" stroke="#555" stroke-width="0.9" />
<line x1="655.1" y1="113.2" x2="665.1" y2="113.2" stroke="#555" stroke-width="0.9" />
<line x1="650.1" y1="98.4" x2="670.6" y2="98.4" stroke="#3a3a3a" stroke-width="1.0" />
<circle cx="621.2" cy="133.4" r="1.75" fill="#fa8482" />
<circle cx="621.2" cy="137.6" r="1.75" fill="#fa8482" />
<circle cx="624.6" cy="135.5" r="1.75" fill="#fa8482" />
<circle cx="627.8" cy="134.2" r="1.75" fill="#fa8482" />
<circle cx="627.8" cy="137.9" r="1.75" fill="#fa8482" />
<circle cx="631.4" cy="136.8" r="1.75" fill="#fa8482" />
<circle cx="634.9" cy="138.4" r="1.75" fill="#fa8482" />
<circle cx="638.3" cy="133.1" r="1.75" fill="#fa8482" />
<circle cx="638.3" cy="137.3" r="1.75" fill="#fa8482" />
<circle cx="663.1" cy="58" r="1.75" fill="#2f97e8" />
<circle cx="663.1" cy="90.4" r="1.75" fill="#2f97e8" />
<circle cx="657.3" cy="94.6" r="1.75" fill="#7dbdee" />
<circle cx="657.3" cy="99.3" r="1.75" fill="#2f97e8" />
<circle cx="651.6" cy="101" r="1.75" fill="#2f97e8" />
<circle cx="663.1" cy="101.2" r="1.75" fill="#7dbdee" />
<circle cx="668.7" cy="100.2" r="1.75" fill="#2f97e8" />
<circle cx="657.3" cy="103.4" r="1.75" fill="#7dbdee" />
<circle cx="657.3" cy="108.5" r="1.75" fill="#7dbdee" />
<circle cx="663.1" cy="110" r="1.75" fill="#2f97e8" />
<circle cx="657.3" cy="113" r="1.75" fill="#2f97e8" />
<text x="628.09" y="263.80" font-size="11.6" textLength="42.56" lengthAdjust="spacingAndGlyphs" >CXADR</text>
<line x1="613.4" y1="273.5" x2="684.4" y2="273.5" stroke="#444" stroke-width="0.9" />
<line x1="684.4" y1="273.5" x2="684.4" y2="379.9" stroke="#444" stroke-width="0.9" />
<line x1="613.4" y1="273.5" x2="613.4" y2="379.9" stroke="#444" stroke-width="0.9" />
<line x1="613.4" y1="379.9" x2="684.4" y2="379.9" stroke="#333" stroke-width="1.1" />
<line x1="611.3" y1="380.1" x2="613.4" y2="380.1" stroke="#444" stroke-width="0.8" />
<text x="595.64" y="383.60" font-size="10.3" textLength="14.32" lengthAdjust="spacingAndGlyphs" fill="#111" >0.0</text>
<line x1="611.3" y1="353.55" x2="613.4" y2="353.55" stroke="#444" stroke-width="0.8" />
<text x="595.75" y="357.05" font-size="10.3" textLength="14.32" lengthAdjust="spacingAndGlyphs" fill="#111" >0.1</text>
<line x1="611.3" y1="327" x2="613.4" y2="327" stroke="#444" stroke-width="0.8" />
<text x="595.80" y="330.50" font-size="10.3" textLength="14.32" lengthAdjust="spacingAndGlyphs" fill="#111" >0.2</text>
<line x1="611.3" y1="300.45" x2="613.4" y2="300.45" stroke="#444" stroke-width="0.8" />
<text x="595.69" y="303.95" font-size="10.3" textLength="14.32" lengthAdjust="spacingAndGlyphs" fill="#111" >0.3</text>
<line x1="611.3" y1="273.9" x2="613.4" y2="273.9" stroke="#444" stroke-width="0.8" />
<text x="595.59" y="277.40" font-size="10.3" textLength="14.32" lengthAdjust="spacingAndGlyphs" fill="#111" >0.4</text>
<line x1="634" y1="379.9" x2="634" y2="382.5" stroke="#444" stroke-width="0.8" />
<line x1="664.3" y1="379.9" x2="664.3" y2="382.5" stroke="#444" stroke-width="0.8" />
<text x="634.41" y="284.50" font-size="10.8" textLength="30.40" lengthAdjust="spacingAndGlyphs" >0.018</text>
<text transform="translate(589.30,338.70) rotate(-90)" x="0" y="0" font-size="12.6" textLength="26.23" lengthAdjust="spacingAndGlyphs" >Area</text>
<text transform="translate(637.40,394.70) rotate(-45)" x="0" y="0" font-size="12.2" text-anchor="end" textLength="40.35" lengthAdjust="spacingAndGlyphs">AZS-C1</text>
<text transform="translate(667.70,394.70) rotate(-45)" x="0" y="0" font-size="12.2" text-anchor="end" textLength="40.35" lengthAdjust="spacingAndGlyphs">AZS-C2</text>
<line x1="633.8" y1="320" x2="633.8" y2="364.6" stroke="#b0b0b0" stroke-width="0.9" />
<line x1="629.3" y1="320" x2="639" y2="320" stroke="#b0b0b0" stroke-width="0.9" />
<line x1="629.3" y1="364.6" x2="639" y2="364.6" stroke="#444" stroke-width="0.9" />
<line x1="624.3" y1="342.4" x2="643.9" y2="342.4" stroke="#333" stroke-width="1.0" />
<line x1="664.3" y1="312.3" x2="664.3" y2="333.2" stroke="#444" stroke-width="0.9" />
<line x1="659.5" y1="312.3" x2="669.6" y2="312.3" stroke="#444" stroke-width="0.9" />
<line x1="659.5" y1="333.2" x2="669.6" y2="333.2" stroke="#b0b0b0" stroke-width="0.9" />
<line x1="654" y1="322.4" x2="674.7" y2="322.4" stroke="#333" stroke-width="1.0" />
<circle cx="633.8" cy="292.1" r="1.75" fill="#fa8482" />
<circle cx="633.8" cy="322.2" r="1.75" fill="#fa8482" />
<circle cx="627.8" cy="346.1" r="1.75" fill="#fa8482" />
<circle cx="633.8" cy="345.7" r="1.75" fill="#fa8482" />
<circle cx="640.6" cy="343.9" r="1.75" fill="#fa8482" />
<circle cx="627.8" cy="352.7" r="1.75" fill="#fa8482" />
<circle cx="633.8" cy="353" r="1.75" fill="#fa8482" />
<circle cx="627.8" cy="363.5" r="1.75" fill="#fa8482" />
<circle cx="640.6" cy="361.6" r="1.75" fill="#fa8482" />
<circle cx="655.8" cy="314.5" r="1.75" fill="#2f97e8" />
<circle cx="661.7" cy="314.1" r="1.75" fill="#2f97e8" />
<circle cx="667.8" cy="314.9" r="1.75" fill="#7dbdee" />
<circle cx="673.3" cy="311.2" r="1.75" fill="#2f97e8" />
<circle cx="661.7" cy="320.4" r="1.75" fill="#2f97e8" />
<circle cx="667.8" cy="320.4" r="1.75" fill="#2f97e8" />
<circle cx="673.3" cy="317.6" r="1.75" fill="#2f97e8" />
<circle cx="661.7" cy="328.6" r="1.75" fill="#2f97e8" />
<circle cx="667.8" cy="325.5" r="1.75" fill="#2f97e8" />
<circle cx="661.7" cy="341.7" r="1.75" fill="#2f97e8" />
<circle cx="667.4" cy="339.8" r="1.75" fill="#2f97e8" />
<text x="629.34" y="490.70" font-size="11.6" textLength="37.30" lengthAdjust="spacingAndGlyphs" >PLA1A</text>
<line x1="612.2" y1="499.9" x2="683.2" y2="499.9" stroke="#444" stroke-width="0.9" />
<line x1="683.2" y1="499.9" x2="683.2" y2="606.2" stroke="#444" stroke-width="0.9" />
<line x1="612.2" y1="499.9" x2="612.2" y2="606.2" stroke="#444" stroke-width="0.9" />
<line x1="612.2" y1="606.2" x2="683.2" y2="606.2" stroke="#333" stroke-width="1.1" />
<line x1="610.1" y1="606.5" x2="612.2" y2="606.5" stroke="#444" stroke-width="0.8" />
<text x="603.04" y="610.00" font-size="10.3" textLength="5.73" lengthAdjust="spacingAndGlyphs" fill="#111" >0</text>
<line x1="610.1" y1="579.85" x2="612.2" y2="579.85" stroke="#444" stroke-width="0.8" />
<text x="603.10" y="583.35" font-size="10.3" textLength="5.73" lengthAdjust="spacingAndGlyphs" fill="#111" >5</text>
<line x1="610.1" y1="553.2" x2="612.2" y2="553.2" stroke="#444" stroke-width="0.8" />
<text x="597.33" y="556.70" font-size="10.3" textLength="11.46" lengthAdjust="spacingAndGlyphs" fill="#111" >10</text>
<line x1="610.1" y1="526.55" x2="612.2" y2="526.55" stroke="#444" stroke-width="0.8" />
<text x="597.38" y="530.05" font-size="10.3" textLength="11.46" lengthAdjust="spacingAndGlyphs" fill="#111" >15</text>
<line x1="610.1" y1="499.9" x2="612.2" y2="499.9" stroke="#444" stroke-width="0.8" />
<text x="597.33" y="503.40" font-size="10.3" textLength="11.46" lengthAdjust="spacingAndGlyphs" fill="#111" >20</text>
<line x1="632.5" y1="606.2" x2="632.5" y2="608.8" stroke="#444" stroke-width="0.8" />
<line x1="663" y1="606.2" x2="663" y2="608.8" stroke="#444" stroke-width="0.8" />
<text x="629.31" y="513.70" font-size="10.8" textLength="37.38" lengthAdjust="spacingAndGlyphs" >0.0002</text>
<text transform="translate(591.50,565.40) rotate(-90)" x="0" y="0" font-size="12.6" textLength="26.13" lengthAdjust="spacingAndGlyphs" >Area</text>
<text transform="translate(635.90,621.00) rotate(-45)" x="0" y="0" font-size="12.2" text-anchor="end" textLength="40.35" lengthAdjust="spacingAndGlyphs">AZS-C1</text>
<text transform="translate(666.40,621.00) rotate(-45)" x="0" y="0" font-size="12.2" text-anchor="end" textLength="40.35" lengthAdjust="spacingAndGlyphs">AZS-C2</text>
<line x1="636.8" y1="599.1" x2="636.8" y2="599.1" stroke="#fff0" stroke-width="0.9" />
<line x1="636.8" y1="599.1" x2="636.8" y2="599.1" stroke="#fff0" stroke-width="0.9" />
<line x1="636.8" y1="599.1" x2="636.8" y2="599.1" stroke="#fff0" stroke-width="0.9" />
<line x1="635.2" y1="599.1" x2="638.6" y2="599.1" stroke="#333" stroke-width="1.0" />
<line x1="663.4" y1="559.3" x2="663.4" y2="596.3" stroke="#666" stroke-width="0.9" />
<line x1="658.9" y1="559.3" x2="667.9" y2="559.3" stroke="#555" stroke-width="0.9" />
<line x1="658.9" y1="596.3" x2="667.9" y2="596.3" stroke="#555" stroke-width="0.9" />
<line x1="655.5" y1="578.3" x2="673.5" y2="578.3" stroke="#555" stroke-width="1.0" />
<circle cx="623.9" cy="599.2" r="1.75" fill="#fa8482" />
<circle cx="625.7" cy="601.8" r="1.75" fill="#fa8482" />
<circle cx="627.2" cy="599" r="1.75" fill="#fa8482" />
<circle cx="629" cy="601" r="1.75" fill="#fa8482" />
<circle cx="630.7" cy="599.4" r="1.75" fill="#fa8482" />
<circle cx="632.5" cy="598.3" r="1.75" fill="#fa8482" />
<circle cx="632.5" cy="602.7" r="1.75" fill="#fa8482" />
<circle cx="634.6" cy="601" r="1.75" fill="#fa8482" />
<circle cx="636.4" cy="601.8" r="1.75" fill="#fa8482" />
<circle cx="639" cy="601.4" r="1.75" fill="#fa8482" />
<circle cx="639.5" cy="602.7" r="1.75" fill="#fa8482" />
<circle cx="641.2" cy="599" r="1.75" fill="#fa8482" />
<circle cx="627.5" cy="601.5" r="1.75" fill="#fa8482" />
<circle cx="637.5" cy="599.5" r="1.75" fill="#fa8482" />
<circle cx="663.4" cy="518.2" r="1.75" fill="#2f97e8" />
<circle cx="663.4" cy="556.6" r="1.75" fill="#7dbdee" />
<circle cx="663.4" cy="561.6" r="1.75" fill="#7dbdee" />
<circle cx="654.8" cy="567" r="1.75" fill="#2f97e8" />
<circle cx="658.9" cy="567.4" r="1.75" fill="#2f97e8" />
<circle cx="663.4" cy="569.1" r="1.75" fill="#2f97e8" />
<circle cx="667.5" cy="568.3" r="1.75" fill="#2f97e8" />
<circle cx="663.4" cy="572.7" r="1.75" fill="#2f97e8" />
<circle cx="654.8" cy="577.2" r="1.75" fill="#2f97e8" />
<circle cx="658.9" cy="576.8" r="1.75" fill="#2f97e8" />
<circle cx="663.4" cy="578.1" r="1.75" fill="#2f97e8" />
<circle cx="667.5" cy="577.2" r="1.75" fill="#2f97e8" />
<circle cx="671.4" cy="576.8" r="1.75" fill="#2f97e8" />
<circle cx="658.9" cy="587" r="1.75" fill="#2f97e8" />
<circle cx="663.4" cy="586.5" r="1.75" fill="#2f97e8" />
<circle cx="667.5" cy="586.1" r="1.75" fill="#2f97e8" />
<circle cx="663.4" cy="590.6" r="1.75" fill="#2f97e8" />
<circle cx="658.9" cy="597.4" r="1.75" fill="#2f97e8" />
<circle cx="663.4" cy="597.7" r="1.75" fill="#2f97e8" />
<circle cx="667.5" cy="600.4" r="1.75" fill="#2f97e8" />
<circle cx="671.4" cy="598.1" r="1.75" fill="#2f97e8" />
<circle cx="658.9" cy="601.3" r="1.75" fill="#7dbdee" />
<circle cx="663.4" cy="599.5" r="1.75" fill="#2f97e8" />
<rect x="40.6" y="492.2" width="198.00" height="128.10" fill="none" stroke="#4a4040" stroke-width="1"/>
<line x1="38.4" y1="619.3" x2="40.6" y2="619.3" stroke="#444" stroke-width="0.8" />
<text x="25.45" y="622.70" font-size="10.0" textLength="13.90" lengthAdjust="spacingAndGlyphs" fill="#2a2a2a" >0.0</text>
<line x1="38.4" y1="591.8" x2="40.6" y2="591.8" stroke="#444" stroke-width="0.8" />
<text x="25.60" y="595.20" font-size="10.0" textLength="13.90" lengthAdjust="spacingAndGlyphs" fill="#2a2a2a" >0.2</text>
<line x1="38.4" y1="564.3" x2="40.6" y2="564.3" stroke="#444" stroke-width="0.8" />
<text x="25.40" y="567.70" font-size="10.0" textLength="13.90" lengthAdjust="spacingAndGlyphs" fill="#2a2a2a" >0.4</text>
<line x1="38.4" y1="536.8" x2="40.6" y2="536.8" stroke="#444" stroke-width="0.8" />
<text x="25.50" y="540.20" font-size="10.0" textLength="13.90" lengthAdjust="spacingAndGlyphs" fill="#2a2a2a" >0.6</text>
<line x1="38.4" y1="509.3" x2="40.6" y2="509.3" stroke="#444" stroke-width="0.8" />
<text x="25.50" y="512.70" font-size="10.0" textLength="13.90" lengthAdjust="spacingAndGlyphs" fill="#2a2a2a" >0.8</text>
<line x1="42.5" y1="620.3" x2="42.5" y2="622.5" stroke="#444" stroke-width="0.8" />
<text x="39.90" y="630.50" font-size="9.3" textLength="5.17" lengthAdjust="spacingAndGlyphs" fill="#2a2a2a" >0</text>
<line x1="98.3" y1="620.3" x2="98.3" y2="622.5" stroke="#444" stroke-width="0.8" />
<text x="95.72" y="630.50" font-size="9.3" textLength="5.17" lengthAdjust="spacingAndGlyphs" fill="#2a2a2a" >5</text>
<line x1="154.2" y1="620.3" x2="154.2" y2="622.5" stroke="#444" stroke-width="0.8" />
<text x="148.85" y="630.50" font-size="9.3" textLength="10.34" lengthAdjust="spacingAndGlyphs" fill="#2a2a2a" >10</text>
<line x1="211" y1="620.3" x2="211" y2="622.5" stroke="#444" stroke-width="0.8" />
<text x="205.68" y="630.50" font-size="9.3" textLength="10.34" lengthAdjust="spacingAndGlyphs" fill="#2a2a2a" >15</text>
<text x="78.28" y="484.70" font-size="11.0" textLength="126.23" lengthAdjust="spacingAndGlyphs" >K-means clustering  K=2</text>
<text x="113.59" y="644.90" font-size="11.8" textLength="50.61" lengthAdjust="spacingAndGlyphs" >Feature1</text>
<text transform="translate(17.60,580.82) rotate(-90)" x="0" y="0" font-size="11.8" textLength="51.09" lengthAdjust="spacingAndGlyphs" >Feature2</text>
<text x="243.39" y="545.60" font-size="9.8" textLength="32.08" lengthAdjust="spacingAndGlyphs" >Cluster</text>
<text x="260.20" y="561.70" font-size="9.8" textLength="35.26" lengthAdjust="spacingAndGlyphs" >AZS-C1</text>
<text x="260.20" y="575.10" font-size="9.8" textLength="36.02" lengthAdjust="spacingAndGlyphs" >AZS-C2</text>
<circle cx="251.6" cy="559" r="2" fill="#f8766d" />
<circle cx="251.6" cy="572.5" r="2" fill="#00bfc4" />
<circle cx="49.2" cy="504.4" r="1.85" fill="#f8766d" />
<circle cx="50.9" cy="518.5" r="1.85" fill="#f8766d" />
<circle cx="55.9" cy="522.9" r="1.85" fill="#f8766d" />
<circle cx="49.8" cy="531.9" r="1.85" fill="#f8766d" />
<circle cx="51.1" cy="536.1" r="1.85" fill="#f8766d" />
<circle cx="52.7" cy="546.5" r="1.85" fill="#f8766d" />
<circle cx="54.3" cy="553.3" r="1.85" fill="#f8766d" />
<circle cx="55.7" cy="573" r="1.85" fill="#f8766d" />
<circle cx="51.4" cy="578.5" r="1.85" fill="#f8766d" />
<circle cx="56.8" cy="581.8" r="1.85" fill="#f8766d" />
<circle cx="55.5" cy="586" r="1.85" fill="#f8766d" />
<circle cx="56.3" cy="587.8" r="1.85" fill="#f8766d" />
<circle cx="58.3" cy="592" r="1.85" fill="#00bfc4" />
<circle cx="59.7" cy="598.4" r="1.85" fill="#00bfc4" />
<circle cx="61.1" cy="601.1" r="1.85" fill="#00bfc4" />
<circle cx="54.3" cy="605.9" r="1.85" fill="#00bfc4" />
<circle cx="52.5" cy="609.9" r="1.85" fill="#00bfc4" />
<circle cx="75.9" cy="606.8" r="1.85" fill="#00bfc4" />
<circle cx="84.3" cy="603.3" r="1.85" fill="#00bfc4" />
<circle cx="82.3" cy="615.7" r="1.85" fill="#00bfc4" />
<circle cx="83.5" cy="616.3" r="1.85" fill="#00bfc4" />
<circle cx="100.9" cy="614.1" r="1.85" fill="#00bfc4" />
<circle cx="103.2" cy="613.5" r="1.85" fill="#00bfc4" />
<circle cx="105.1" cy="605.5" r="1.85" fill="#00bfc4" />
<circle cx="105.1" cy="608.4" r="1.85" fill="#00bfc4" />
<circle cx="113.3" cy="617" r="1.85" fill="#00bfc4" />
<circle cx="120.6" cy="611.1" r="1.85" fill="#00bfc4" />
<circle cx="122.9" cy="614.5" r="1.85" fill="#00bfc4" />
<circle cx="124.9" cy="610.3" r="1.85" fill="#00bfc4" />
<circle cx="126.6" cy="585.7" r="1.85" fill="#00bfc4" />
<circle cx="137.3" cy="599.8" r="1.85" fill="#00bfc4" />
<circle cx="147.7" cy="556.6" r="1.85" fill="#00bfc4" />
<circle cx="230.4" cy="571.3" r="1.85" fill="#00bfc4" />
<polyline points="372.5,618.5 372.5,504.5 462.5,504.5 462.5,499.5 475.5,499.5 475.5,493.5 488.5,493.5 501.5,486.5 527.5,480.5" fill="none" stroke="#1f77b4" stroke-width="1.1" />
<polyline points="372.5,618.5 372.5,499.5 438.5,499.5 488.5,493.5 527.5,480.5" fill="none" stroke="#ff7f0e" stroke-width="1.1" />
<polyline points="372.5,618.5 372.5,499.5 449.5,499.5 449.5,486.5 461.5,480.5 527.5,480.5" fill="none" stroke="#2ca02c" stroke-width="1.1" />
<polyline points="372.5,618.5 372.5,480.5 527.5,480.5" fill="none" stroke="#d62728" stroke-width="1.1" />
<rect x="364.8" y="473.7" width="170.9" height="150.6" fill="none" stroke="#444" stroke-width="0.8"/>
<line x1="362.6" y1="618.1" x2="364.8" y2="618.1" stroke="#444" stroke-width="0.7" />
<line x1="372.5" y1="624.3" x2="372.5" y2="626.4" stroke="#444" stroke-width="0.7" />
<text x="345.38" y="621.70" font-size="10.2" textLength="14.18" lengthAdjust="spacingAndGlyphs" fill="#111" >0.0</text>
<text x="372.80" y="635.7" font-size="10.2" text-anchor="middle" fill="#111">0.0</text>
<line x1="362.6" y1="590.64" x2="364.8" y2="590.64" stroke="#444" stroke-width="0.7" />
<line x1="403.5" y1="624.3" x2="403.5" y2="626.4" stroke="#444" stroke-width="0.7" />
<text x="345.53" y="594.24" font-size="10.2" textLength="14.18" lengthAdjust="spacingAndGlyphs" fill="#111" >0.2</text>
<text x="403.80" y="635.7" font-size="10.2" text-anchor="middle" fill="#111">0.2</text>
<line x1="362.6" y1="563.18" x2="364.8" y2="563.18" stroke="#444" stroke-width="0.7" />
<line x1="434.5" y1="624.3" x2="434.5" y2="626.4" stroke="#444" stroke-width="0.7" />
<text x="345.33" y="566.78" font-size="10.2" textLength="14.18" lengthAdjust="spacingAndGlyphs" fill="#111" >0.4</text>
<text x="434.80" y="635.7" font-size="10.2" text-anchor="middle" fill="#111">0.4</text>
<line x1="362.6" y1="535.72" x2="364.8" y2="535.72" stroke="#444" stroke-width="0.7" />
<line x1="465.5" y1="624.3" x2="465.5" y2="626.4" stroke="#444" stroke-width="0.7" />
<text x="345.43" y="539.32" font-size="10.2" textLength="14.18" lengthAdjust="spacingAndGlyphs" fill="#111" >0.6</text>
<text x="465.80" y="635.7" font-size="10.2" text-anchor="middle" fill="#111">0.6</text>
<line x1="362.6" y1="508.26" x2="364.8" y2="508.26" stroke="#444" stroke-width="0.7" />
<line x1="496.5" y1="624.3" x2="496.5" y2="626.4" stroke="#444" stroke-width="0.7" />
<text x="345.43" y="511.86" font-size="10.2" textLength="14.18" lengthAdjust="spacingAndGlyphs" fill="#111" >0.8</text>
<text x="496.80" y="635.7" font-size="10.2" text-anchor="middle" fill="#111">0.8</text>
<line x1="362.6" y1="480.8" x2="364.8" y2="480.8" stroke="#444" stroke-width="0.7" />
<line x1="527.5" y1="624.3" x2="527.5" y2="626.4" stroke="#444" stroke-width="0.7" />
<text x="345.38" y="484.40" font-size="10.2" textLength="14.18" lengthAdjust="spacingAndGlyphs" fill="#111" >1.0</text>
<text x="527.80" y="635.7" font-size="10.2" text-anchor="middle" fill="#111">1.0</text>
<text transform="translate(336.00,576.07) rotate(-90)" x="0" y="0" font-size="12.6" textLength="56.99" lengthAdjust="spacingAndGlyphs" >Sensitivity</text>
<text x="413.75" y="651.50" font-size="12.5" textLength="68.46" lengthAdjust="spacingAndGlyphs" >1-Specificity</text>
<rect x="440.4" y="582.5" width="91.5" height="38.3" rx="1.8" fill="#fff" fill-opacity="0.8" stroke="#d4d4d4" stroke-width="0.7"/>
<line x1="442.6" y1="587.2" x2="456.4" y2="587.2" stroke="#1f77b4" stroke-width="1.05" />
<text x="457.90" y="590.50" font-size="10.0" textLength="56.91" lengthAdjust="spacingAndGlyphs" fill="#111" >DPP4: 0.866</text>
<line x1="442.6" y1="596.53" x2="456.4" y2="596.53" stroke="#ff7f0e" stroke-width="1.05" />
<text x="457.90" y="599.83" font-size="10.0" textLength="61.61" lengthAdjust="spacingAndGlyphs" fill="#111" >PLA1A: 0.894</text>
<line x1="442.6" y1="605.86" x2="456.4" y2="605.86" stroke="#2ca02c" stroke-width="1.05" />
<text x="457.90" y="609.16" font-size="10.0" textLength="58.12" lengthAdjust="spacingAndGlyphs" fill="#111" >PRELP: 0.93</text>
<line x1="442.6" y1="615.19" x2="456.4" y2="615.19" stroke="#d62728" stroke-width="1.05" />
<text x="458.70" y="618.49" font-size="10.0" textLength="68.47" lengthAdjust="spacingAndGlyphs" fill="#111" >All proteins: 1.0</text>
</svg>
</body></html>
